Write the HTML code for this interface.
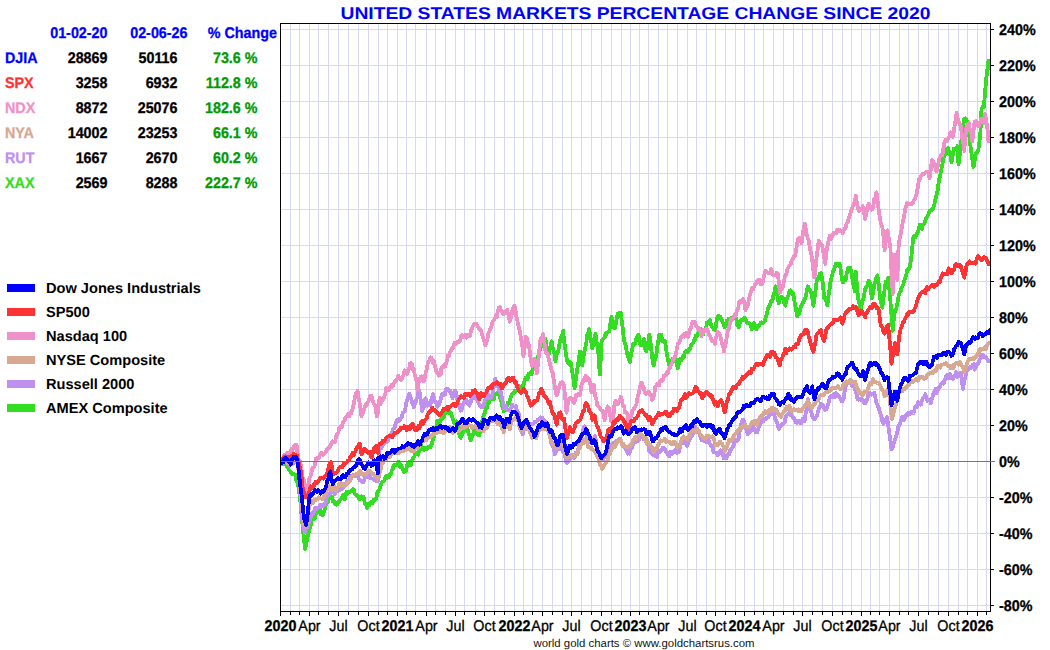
<!DOCTYPE html>
<html><head><meta charset="utf-8"><style>
html,body{margin:0;padding:0;background:#fff;width:1050px;height:650px;overflow:hidden}
svg{position:absolute;left:0;top:0;text-rendering:geometricPrecision;font-family:"Liberation Sans",sans-serif;font-size:14px}
</style></head><body>
<svg width="1050" height="650" viewBox="0 0 1050 650">
<rect width="1050" height="650" fill="#fff"/>
<text x="635.5" y="19" text-anchor="middle" font-weight="bold" font-size="17" fill="#0000ff" textLength="590" lengthAdjust="spacingAndGlyphs">UNITED STATES MARKETS PERCENTAGE CHANGE SINCE 2020</text>
<g font-weight="bold">
<text x="107.5" y="38" text-anchor="end" fill="#0000ff" stroke="#0000ff" stroke-width="0.3" font-weight="bold" font-size="15.4" transform="translate(107.5 0) scale(0.93 1) translate(-107.5 0)">01-02-20</text><text x="187.5" y="38" text-anchor="end" fill="#0000ff" stroke="#0000ff" stroke-width="0.3" font-weight="bold" font-size="15.4" transform="translate(187.5 0) scale(0.93 1) translate(-187.5 0)">02-06-26</text><text x="277" y="38" text-anchor="end" fill="#0000ff" stroke="#0000ff" stroke-width="0.3" font-weight="bold" font-size="15.4" transform="translate(277 0) scale(0.93 1) translate(-277 0)">% Change</text>
<text x="5" y="63" fill="#0000ff" stroke="#0000ff" stroke-width="0.3" font-weight="bold" font-size="15.4" transform="translate(5 0) scale(0.93 1) translate(-5 0)">DJIA</text><text x="107.5" y="63" text-anchor="end" stroke="#000" stroke-width="0.3" font-weight="bold" font-size="15.4" transform="translate(107.5 0) scale(0.93 1) translate(-107.5 0)">28869</text><text x="177.5" y="63" text-anchor="end" stroke="#000" stroke-width="0.3" font-weight="bold" font-size="15.4" transform="translate(177.5 0) scale(0.93 1) translate(-177.5 0)">50116</text><text x="257.5" y="63" text-anchor="end" fill="#009a00" stroke="#009a00" stroke-width="0.3" font-weight="bold" font-size="15.4" transform="translate(257.5 0) scale(0.93 1) translate(-257.5 0)">73.6 %</text>
<text x="5" y="88" fill="#ff3333" stroke="#ff3333" stroke-width="0.3" font-weight="bold" font-size="15.4" transform="translate(5 0) scale(0.93 1) translate(-5 0)">SPX</text><text x="107.5" y="88" text-anchor="end" stroke="#000" stroke-width="0.3" font-weight="bold" font-size="15.4" transform="translate(107.5 0) scale(0.93 1) translate(-107.5 0)">3258</text><text x="177.5" y="88" text-anchor="end" stroke="#000" stroke-width="0.3" font-weight="bold" font-size="15.4" transform="translate(177.5 0) scale(0.93 1) translate(-177.5 0)">6932</text><text x="257.5" y="88" text-anchor="end" fill="#009a00" stroke="#009a00" stroke-width="0.3" font-weight="bold" font-size="15.4" transform="translate(257.5 0) scale(0.93 1) translate(-257.5 0)">112.8 %</text>
<text x="5" y="113" fill="#f090c8" stroke="#f090c8" stroke-width="0.3" font-weight="bold" font-size="15.4" transform="translate(5 0) scale(0.93 1) translate(-5 0)">NDX</text><text x="107.5" y="113" text-anchor="end" stroke="#000" stroke-width="0.3" font-weight="bold" font-size="15.4" transform="translate(107.5 0) scale(0.93 1) translate(-107.5 0)">8872</text><text x="177.5" y="113" text-anchor="end" stroke="#000" stroke-width="0.3" font-weight="bold" font-size="15.4" transform="translate(177.5 0) scale(0.93 1) translate(-177.5 0)">25076</text><text x="257.5" y="113" text-anchor="end" fill="#009a00" stroke="#009a00" stroke-width="0.3" font-weight="bold" font-size="15.4" transform="translate(257.5 0) scale(0.93 1) translate(-257.5 0)">182.6 %</text>
<text x="5" y="138" fill="#d8a890" stroke="#d8a890" stroke-width="0.3" font-weight="bold" font-size="15.4" transform="translate(5 0) scale(0.93 1) translate(-5 0)">NYA</text><text x="107.5" y="138" text-anchor="end" stroke="#000" stroke-width="0.3" font-weight="bold" font-size="15.4" transform="translate(107.5 0) scale(0.93 1) translate(-107.5 0)">14002</text><text x="177.5" y="138" text-anchor="end" stroke="#000" stroke-width="0.3" font-weight="bold" font-size="15.4" transform="translate(177.5 0) scale(0.93 1) translate(-177.5 0)">23253</text><text x="257.5" y="138" text-anchor="end" fill="#009a00" stroke="#009a00" stroke-width="0.3" font-weight="bold" font-size="15.4" transform="translate(257.5 0) scale(0.93 1) translate(-257.5 0)">66.1 %</text>
<text x="5" y="163" fill="#c090f0" stroke="#c090f0" stroke-width="0.3" font-weight="bold" font-size="15.4" transform="translate(5 0) scale(0.93 1) translate(-5 0)">RUT</text><text x="107.5" y="163" text-anchor="end" stroke="#000" stroke-width="0.3" font-weight="bold" font-size="15.4" transform="translate(107.5 0) scale(0.93 1) translate(-107.5 0)">1667</text><text x="177.5" y="163" text-anchor="end" stroke="#000" stroke-width="0.3" font-weight="bold" font-size="15.4" transform="translate(177.5 0) scale(0.93 1) translate(-177.5 0)">2670</text><text x="257.5" y="163" text-anchor="end" fill="#009a00" stroke="#009a00" stroke-width="0.3" font-weight="bold" font-size="15.4" transform="translate(257.5 0) scale(0.93 1) translate(-257.5 0)">60.2 %</text>
<text x="5" y="188" fill="#33dd22" stroke="#33dd22" stroke-width="0.3" font-weight="bold" font-size="15.4" transform="translate(5 0) scale(0.93 1) translate(-5 0)">XAX</text><text x="107.5" y="188" text-anchor="end" stroke="#000" stroke-width="0.3" font-weight="bold" font-size="15.4" transform="translate(107.5 0) scale(0.93 1) translate(-107.5 0)">2569</text><text x="177.5" y="188" text-anchor="end" stroke="#000" stroke-width="0.3" font-weight="bold" font-size="15.4" transform="translate(177.5 0) scale(0.93 1) translate(-177.5 0)">8288</text><text x="257.5" y="188" text-anchor="end" fill="#009a00" stroke="#009a00" stroke-width="0.3" font-weight="bold" font-size="15.4" transform="translate(257.5 0) scale(0.93 1) translate(-257.5 0)">222.7 %</text>
<rect x="7" y="284" width="28" height="8" fill="#0000ff"/><text x="46" y="293" font-size="14.6">Dow Jones Industrials</text>
<rect x="7" y="308" width="28" height="8" fill="#ff3333"/><text x="46" y="317" font-size="14.6">SP500</text>
<rect x="7" y="332" width="28" height="8" fill="#f090c8"/><text x="46" y="341" font-size="14.6">Nasdaq 100</text>
<rect x="7" y="356" width="28" height="8" fill="#d8a890"/><text x="46" y="365" font-size="14.6">NYSE Composite</text>
<rect x="7" y="380" width="28" height="8" fill="#c090f0"/><text x="46" y="389" font-size="14.6">Russell 2000</text>
<rect x="7" y="404" width="28" height="8" fill="#33dd22"/><text x="46" y="413" font-size="14.6">AMEX Composite</text>
</g>
<path d="M290.5 24V611M299.5 24V611M309.5 24V611M318.5 24V611M328.5 24V611M338.5 24V611M348.5 24V611M358.5 24V611M368.5 24V611M378.5 24V611M387.5 24V611M397.5 24V611M406.5 24V611M415.5 24V611M426.5 24V611M435.5 24V611M445.5 24V611M455.5 24V611M464.5 24V611M475.5 24V611M484.5 24V611M494.5 24V611M504.5 24V611M514.5 24V611M523.5 24V611M532.5 24V611M542.5 24V611M552.5 24V611M562.5 24V611M571.5 24V611M581.5 24V611M591.5 24V611M601.5 24V611M611.5 24V611M621.5 24V611M630.5 24V611M639.5 24V611M648.5 24V611M658.5 24V611M667.5 24V611M677.5 24V611M687.5 24V611M696.5 24V611M706.5 24V611M715.5 24V611M725.5 24V611M735.5 24V611M744.5 24V611M754.5 24V611M763.5 24V611M773.5 24V611M783.5 24V611M793.5 24V611M802.5 24V611M812.5 24V611M822.5 24V611M832.5 24V611M842.5 24V611M851.5 24V611M861.5 24V611M870.5 24V611M879.5 24V611M889.5 24V611M899.5 24V611M908.5 24V611M918.5 24V611M928.5 24V611M938.5 24V611M948.5 24V611M958.5 24V611M967.5 24V611M977.5 24V611M986.5 24V611M281 29.5H990M281 65.5H990M281 101.5H990M281 137.5H990M281 173.5H990M281 209.5H990M281 245.5H990M281 281.5H990M281 317.5H990M281 353.5H990M281 389.5H990M281 425.5H990M281 497.5H990M281 533.5H990M281 569.5H990M281 605.5H990" stroke="#d7d9f3" stroke-width="1" fill="none"/>
<defs><clipPath id="pc"><rect x="281" y="24" width="709" height="587"/></clipPath></defs><g clip-path="url(#pc)"><path d="M280.0 461.8 L280.6 461.2 L281.5 463.6 L282.5 464.4 L283.4 464.0 L284.3 462.7 L285.2 463.4 L286.2 464.5 L287.1 467.1 L288.3 468.5 L289.5 470.8 L290.6 471.3 L291.6 473.7 L292.6 473.2 L293.8 474.2 L295.1 474.5 L296.3 480.0 L297.6 482.5 L298.5 487.2 L299.4 493.7 L300.3 501.0 L301.2 511.7 L302.2 521.4 L303.1 532.4 L304.0 537.9 L304.9 549.0 L305.9 546.1 L306.8 540.5 L307.7 536.1 L308.6 533.1 L309.6 528.6 L310.5 526.8 L311.4 520.8 L312.3 519.5 L313.3 519.4 L314.2 516.2 L315.1 518.0 L316.0 512.1 L317.0 513.1 L317.9 509.2 L318.8 509.2 L319.7 508.4 L320.6 514.1 L321.6 513.7 L322.5 515.5 L323.4 513.9 L324.3 510.7 L325.3 507.2 L326.2 502.8 L327.1 502.0 L328.0 502.1 L329.0 497.9 L329.9 495.4 L330.8 495.4 L331.7 496.7 L332.7 501.0 L333.6 500.5 L334.5 503.3 L335.4 503.9 L336.4 504.7 L337.3 504.3 L338.2 502.0 L339.1 501.3 L340.0 499.8 L341.0 499.1 L341.9 497.9 L342.8 495.0 L343.7 497.5 L344.7 499.2 L345.6 495.4 L346.5 491.8 L347.4 493.8 L348.4 492.2 L349.3 492.4 L350.2 491.7 L351.1 491.1 L352.1 491.1 L353.0 489.0 L353.9 489.9 L354.8 493.9 L355.8 494.3 L356.7 495.6 L357.6 495.4 L358.8 498.6 L360.0 499.1 L360.8 497.1 L361.5 496.2 L362.5 497.1 L363.4 496.6 L364.3 500.5 L365.2 504.5 L366.2 505.4 L367.1 507.7 L368.0 504.3 L368.9 505.7 L369.8 504.3 L370.8 502.3 L371.7 503.4 L372.6 503.0 L373.5 499.6 L374.5 500.0 L375.4 499.2 L376.3 498.4 L377.3 492.3 L378.3 491.3 L379.2 489.9 L380.2 486.5 L381.2 483.8 L382.2 481.9 L383.2 481.6 L384.2 480.6 L385.3 478.0 L386.3 476.0 L387.3 477.7 L388.2 476.0 L389.2 477.0 L390.1 474.4 L391.0 474.0 L391.9 470.0 L392.8 468.8 L393.8 465.4 L394.7 464.8 L395.6 465.1 L396.5 465.4 L397.5 463.5 L398.4 461.7 L399.3 463.7 L400.2 466.9 L401.2 465.4 L402.1 467.1 L403.0 469.2 L403.9 472.2 L404.8 471.6 L405.8 471.5 L406.8 466.5 L407.8 463.5 L408.8 462.3 L409.8 461.8 L410.7 465.0 L411.6 461.9 L412.5 459.5 L413.5 457.7 L414.4 456.2 L415.3 452.7 L416.2 454.0 L417.2 453.8 L418.1 454.6 L419.1 450.3 L420.1 449.8 L421.2 445.4 L422.2 447.3 L423.2 449.6 L424.2 450.0 L425.2 447.8 L426.1 449.6 L427.0 449.1 L427.9 446.9 L428.8 446.9 L430.0 447.5 L430.9 445.8 L431.8 444.4 L432.8 439.9 L433.7 437.7 L434.6 432.9 L435.5 429.1 L436.5 425.9 L437.4 420.5 L438.4 422.5 L439.4 423.1 L440.3 420.5 L441.3 419.0 L442.3 415.5 L443.3 418.0 L444.3 416.5 L445.3 411.7 L446.2 409.5 L447.2 410.6 L448.2 411.9 L449.1 413.0 L450.0 411.9 L450.9 413.1 L452.2 417.1 L453.4 420.5 L454.3 422.9 L455.2 422.3 L456.2 421.4 L457.1 422.9 L458.0 427.1 L458.9 433.0 L459.8 436.8 L460.8 437.7 L461.7 434.8 L462.6 433.5 L463.5 430.2 L464.5 430.3 L465.7 429.4 L466.9 427.8 L467.8 430.1 L468.8 434.2 L469.7 436.6 L470.6 440.2 L471.5 438.2 L472.5 435.2 L473.4 434.0 L474.3 427.8 L475.3 428.2 L476.3 433.2 L477.3 434.0 L478.2 435.4 L479.2 435.2 L480.2 430.7 L481.1 428.5 L482.0 421.4 L482.9 418.0 L483.9 414.7 L484.9 412.9 L485.9 408.6 L486.9 407.9 L487.8 403.2 L488.8 403.0 L489.8 399.1 L490.8 399.0 L491.8 398.9 L492.8 398.3 L493.8 399.3 L494.8 394.0 L495.8 393.6 L496.9 393.6 L497.9 392.3 L498.9 393.4 L500.0 398.0 L501.0 399.9 L502.0 404.8 L503.0 408.4 L503.9 411.3 L504.9 410.3 L505.9 407.1 L506.9 406.1 L507.9 402.7 L508.9 402.8 L509.8 400.5 L510.8 397.1 L511.8 394.3 L512.8 393.0 L513.8 393.3 L514.8 390.6 L515.8 390.8 L516.7 390.8 L517.7 388.1 L518.7 386.0 L519.7 388.2 L520.7 387.1 L521.7 386.2 L522.6 387.0 L523.6 384.7 L524.6 380.8 L525.6 377.6 L526.6 378.0 L527.6 378.9 L528.6 373.5 L529.5 373.4 L530.5 373.7 L531.5 373.9 L532.5 369.7 L533.5 368.0 L534.5 363.5 L535.4 363.0 L536.4 360.5 L537.4 357.1 L538.4 355.6 L539.4 351.2 L540.6 347.6 L541.8 343.8 L542.8 343.5 L543.7 344.3 L544.6 340.3 L545.5 338.9 L546.8 348.9 L548.0 356.2 L548.9 354.3 L549.8 349.2 L550.8 344.8 L551.7 341.4 L552.6 346.9 L553.5 350.4 L554.5 354.4 L555.4 361.1 L556.3 354.7 L557.2 353.4 L558.2 351.0 L559.1 346.0 L560.0 340.8 L561.0 337.4 L562.1 335.3 L563.1 330.8 L564.1 341.0 L565.1 348.0 L566.2 356.2 L567.3 361.3 L568.5 363.8 L569.6 361.9 L570.8 362.3 L571.9 370.5 L573.1 376.2 L573.8 382.2 L574.6 388.5 L575.8 380.1 L576.9 371.5 L577.9 365.6 L579.0 357.7 L580.0 351.5 L581.2 357.1 L582.3 365.4 L583.3 357.3 L584.4 351.2 L585.4 346.9 L586.3 342.7 L587.3 334.9 L588.3 332.8 L589.2 329.2 L590.3 335.9 L591.3 342.5 L592.3 348.5 L593.3 343.1 L594.4 338.3 L595.4 333.8 L596.4 341.4 L597.4 345.6 L598.5 354.6 L599.2 366.0 L600.0 374.6 L600.8 357.3 L601.5 340.8 L602.6 340.0 L603.6 338.2 L604.6 337.7 L605.5 333.3 L606.5 334.0 L607.4 332.5 L608.3 331.9 L609.2 331.5 L610.4 323.2 L611.5 316.9 L612.6 321.1 L613.6 326.9 L614.6 328.5 L615.6 324.5 L616.7 318.7 L617.7 313.8 L618.7 313.0 L619.7 313.0 L620.8 313.1 L621.8 321.2 L622.8 328.8 L623.8 339.2 L624.9 343.3 L625.9 345.6 L626.9 353.1 L627.9 357.1 L629.0 358.9 L630.0 362.3 L631.0 354.2 L632.1 350.0 L633.1 343.8 L634.2 345.1 L635.2 344.0 L636.3 338.9 L637.4 336.2 L638.5 334.6 L639.6 342.6 L640.8 345.4 L641.8 344.7 L642.8 341.2 L643.8 339.2 L645.0 348.6 L646.2 351.5 L647.2 346.4 L648.2 343.1 L649.2 334.6 L650.2 339.6 L651.1 348.0 L652.0 354.9 L652.9 363.0 L653.8 365.4 L655.0 359.0 L656.2 356.2 L657.2 347.4 L658.2 342.2 L659.2 334.6 L660.4 334.6 L661.3 334.9 L662.2 341.1 L663.2 340.5 L664.1 340.5 L665.0 340.8 L666.2 350.0 L667.2 355.1 L668.2 361.4 L669.2 365.4 L670.3 362.4 L671.3 362.0 L672.3 359.2 L673.3 360.0 L674.4 358.7 L675.4 356.2 L676.6 364.1 L677.8 368.5 L678.9 363.0 L680.0 359.2 L680.9 360.7 L681.8 358.7 L682.8 356.0 L683.7 357.7 L684.6 353.1 L685.5 351.7 L686.5 350.6 L687.4 352.5 L688.3 351.6 L689.2 348.5 L690.2 348.9 L691.1 344.6 L692.0 343.8 L692.9 343.5 L693.8 340.8 L694.9 339.8 L695.9 335.6 L696.9 336.2 L697.9 333.2 L699.0 331.9 L700.0 330.0 L701.0 328.8 L702.1 333.2 L703.1 334.6 L704.1 331.0 L705.1 330.1 L706.2 326.9 L707.1 322.4 L708.0 322.5 L708.9 321.8 L709.8 320.0 L710.8 323.8 L711.8 327.1 L712.8 327.6 L713.8 329.5 L714.8 330.0 L715.8 327.2 L716.8 319.4 L717.8 316.2 L718.8 316.0 L719.7 317.9 L720.6 317.2 L721.5 319.2 L722.6 322.3 L723.6 323.4 L724.6 326.9 L725.6 326.2 L726.7 320.7 L727.7 322.3 L728.6 318.6 L729.5 319.6 L730.5 318.2 L731.4 318.4 L732.3 319.2 L733.3 318.1 L734.4 315.9 L735.4 316.2 L736.4 319.4 L737.4 325.4 L738.5 326.9 L739.2 326.6 L740.0 320.8 L741.1 320.1 L742.2 320.3 L743.2 319.4 L744.3 317.5 L745.4 319.2 L746.5 322.1 L747.5 323.5 L748.6 322.9 L749.7 323.5 L750.8 325.7 L751.9 329.4 L752.9 326.5 L754.0 322.9 L755.1 326.1 L756.2 329.4 L757.3 327.1 L758.3 326.4 L759.4 325.2 L760.5 322.9 L761.6 322.3 L762.6 323.2 L763.7 322.4 L764.8 320.8 L765.9 316.5 L767.0 313.8 L768.0 307.8 L769.1 306.6 L770.2 303.8 L771.3 300.6 L772.3 301.3 L773.4 295.2 L774.5 291.6 L775.6 286.3 L776.7 289.5 L777.7 298.2 L778.8 303.5 L779.9 298.9 L781.0 296.8 L782.0 297.0 L783.1 298.0 L784.2 303.3 L785.3 305.7 L786.4 300.7 L787.4 297.4 L788.5 294.9 L789.6 290.7 L790.7 290.4 L791.8 291.6 L792.8 292.7 L793.9 297.6 L795.0 304.5 L796.1 309.3 L797.1 316.4 L798.2 314.1 L799.3 313.4 L800.4 307.8 L801.5 304.7 L802.5 303.9 L803.6 301.3 L804.7 299.2 L805.8 295.8 L806.8 291.1 L807.9 286.3 L809.0 289.9 L810.1 290.6 L811.2 292.8 L812.2 297.7 L813.3 305.7 L814.4 298.7 L815.5 290.7 L816.5 281.9 L817.7 279.1 L818.8 277.1 L820.0 273.3 L821.2 273.1 L822.2 279.3 L823.2 287.2 L824.2 297.7 L825.3 299.3 L826.3 301.0 L827.3 305.4 L828.3 296.7 L829.4 290.3 L830.4 282.3 L831.3 278.4 L832.2 274.7 L833.2 270.4 L834.1 269.6 L835.0 266.9 L835.9 263.5 L836.8 265.5 L837.8 263.6 L838.7 265.5 L839.6 263.8 L840.6 268.8 L841.7 276.4 L842.7 282.3 L843.6 282.1 L844.5 279.1 L845.5 280.1 L846.4 275.1 L847.3 271.5 L848.2 268.0 L849.2 270.0 L850.1 267.5 L851.0 271.0 L851.9 274.6 L852.9 282.6 L854.0 286.5 L855.0 291.5 L855.8 271.9 L856.9 285.1 L858.1 298.5 L859.2 302.6 L860.4 310.0 L861.5 305.3 L862.7 300.8 L863.8 297.0 L865.0 289.8 L866.2 286.9 L867.3 285.3 L868.5 280.9 L869.6 282.3 L870.8 289.6 L871.9 298.5 L873.1 292.4 L874.2 284.6 L875.2 281.9 L876.2 277.6 L877.2 275.4 L878.2 280.3 L879.1 287.4 L880.0 298.5 L881.2 303.3 L882.3 307.7 L883.5 298.3 L884.6 289.2 L885.8 281.9 L886.9 282.4 L888.1 277.7 L889.2 288.0 L890.4 300.8 L891.5 315.2 L892.7 330.8 L893.8 319.0 L895.0 310.0 L896.2 309.4 L897.3 303.8 L898.5 296.2 L899.6 292.5 L900.8 290.8 L901.9 286.9 L903.1 285.0 L904.2 280.7 L905.4 277.7 L906.3 274.6 L907.2 269.7 L908.2 268.8 L909.1 268.7 L910.0 266.2 L911.2 258.1 L912.3 246.8 L913.5 236.2 L914.4 237.1 L915.3 237.5 L916.2 235.2 L917.2 233.0 L918.1 231.5 L919.0 227.9 L919.9 224.8 L920.9 226.8 L921.8 228.8 L922.7 224.6 L923.9 224.3 L925.0 221.6 L926.2 217.7 L927.3 216.5 L928.5 213.8 L929.6 210.8 L930.8 210.1 L931.9 210.5 L933.1 208.5 L934.2 205.2 L935.4 199.2 L936.5 194.8 L937.7 190.0 L938.9 180.4 L940.0 176.2 L941.2 170.4 L942.3 164.7 L943.5 157.7 L944.6 154.9 L945.8 153.8 L946.9 148.5 L948.1 148.3 L949.2 152.0 L950.4 155.4 L951.5 162.3 L952.7 155.4 L953.9 148.5 L955.0 148.9 L956.2 148.6 L957.3 146.2 L958.5 164.6 L959.6 156.4 L960.8 143.9 L961.9 136.3 L963.1 125.4 L964.2 119.2 L965.4 118.3 L966.5 119.6 L967.7 124.4 L968.9 132.3 L970.0 142.8 L971.2 150.8 L972.3 159.5 L973.5 166.9 L974.6 161.5 L975.8 153.1 L976.9 153.1 L978.1 150.8 L979.2 144.1 L980.4 132.3 L981.5 109.2 L982.7 106.9 L983.9 106.9 L985.0 92.9 L986.2 79.2 L987.3 70.0 L988.5 60.8 L989.6 67.7" stroke="#33dd22" stroke-width="3.8" fill="none" stroke-linejoin="round" stroke-linecap="round" shape-rendering="crispEdges"/><path d="M280.0 461.8 L280.6 461.2 L281.5 460.3 L282.5 462.1 L283.4 462.9 L284.3 461.8 L285.2 462.2 L286.3 462.5 L287.3 461.5 L288.3 463.4 L289.2 465.2 L290.2 463.1 L291.1 462.8 L292.0 464.0 L293.2 463.2 L294.5 461.5 L295.7 461.1 L296.9 462.2 L298.2 467.1 L299.4 480.0 L299.4 486.2 L300.3 494.1 L301.2 508.3 L302.2 521.3 L303.1 525.2 L304.0 530.1 L304.9 532.4 L305.9 529.2 L306.8 526.5 L307.7 526.8 L308.6 523.9 L309.6 520.3 L310.5 518.2 L311.4 513.9 L312.3 512.9 L313.3 513.8 L314.2 510.7 L315.1 507.9 L316.0 509.4 L317.0 508.4 L317.9 507.8 L318.8 507.8 L319.7 505.2 L320.6 504.7 L321.6 506.0 L322.5 506.5 L323.4 505.5 L324.3 504.0 L325.3 504.2 L326.2 500.7 L327.1 495.4 L328.0 496.2 L329.0 493.8 L329.9 494.0 L330.8 491.7 L331.7 490.7 L332.7 491.6 L333.6 491.4 L334.5 494.4 L335.4 493.6 L336.4 489.8 L337.3 491.3 L338.2 489.7 L339.1 490.3 L340.0 489.7 L341.0 488.0 L341.9 489.1 L342.8 488.1 L343.7 487.0 L344.7 486.1 L345.6 485.4 L346.5 482.5 L347.4 480.6 L348.4 480.5 L349.3 479.9 L350.2 476.0 L351.1 477.2 L352.1 477.0 L353.0 474.9 L353.9 476.3 L354.8 476.6 L355.8 474.2 L356.8 474.7 L357.9 476.2 L358.9 479.1 L360.0 480.6 L361.0 481.1 L362.1 482.2 L363.1 482.3 L364.1 480.8 L365.1 476.8 L366.2 473.9 L367.2 476.9 L368.2 473.7 L369.2 474.6 L370.3 478.0 L371.3 478.1 L372.3 478.7 L373.3 478.5 L374.4 480.0 L375.4 480.8 L376.4 480.6 L377.4 481.2 L378.5 480.8 L379.6 450.0 L380.5 448.3 L381.5 448.1 L382.4 446.2 L383.3 444.6 L384.2 443.8 L385.2 440.6 L386.1 442.5 L387.0 441.9 L387.9 440.6 L388.8 436.2 L389.8 437.0 L390.7 434.5 L391.6 436.1 L392.5 430.1 L393.5 428.5 L394.4 428.4 L395.3 424.4 L396.2 421.8 L397.2 420.1 L398.1 421.3 L399.0 419.3 L399.9 419.9 L400.9 418.5 L401.8 417.1 L402.7 412.7 L403.6 412.6 L404.6 411.5 L405.5 408.0 L406.4 402.6 L407.3 399.8 L408.3 396.5 L409.2 393.6 L410.1 396.1 L411.0 398.0 L412.0 402.1 L412.9 404.8 L413.8 407.2 L414.7 404.7 L415.6 403.2 L416.6 398.9 L417.5 396.9 L418.4 391.8 L419.3 390.5 L420.3 396.6 L421.2 403.5 L422.1 410.9 L423.0 408.6 L424.0 406.9 L424.9 399.8 L425.8 398.4 L426.7 401.8 L427.7 405.7 L428.6 403.5 L429.5 403.8 L430.4 405.2 L431.4 399.4 L432.3 396.6 L433.2 394.2 L434.1 399.4 L435.0 401.5 L436.0 402.0 L436.9 405.3 L437.8 406.6 L438.7 404.9 L439.7 402.9 L440.6 399.8 L441.5 395.5 L442.4 394.0 L443.4 395.1 L444.3 392.5 L445.2 394.2 L446.1 388.8 L447.1 390.6 L448.0 388.7 L448.9 390.5 L449.8 391.7 L450.8 391.3 L451.7 395.8 L452.6 397.9 L453.8 393.7 L455.0 390.5 L456.0 392.3 L457.1 398.3 L458.0 403.3 L458.9 403.8 L459.8 408.9 L460.8 410.6 L461.7 409.8 L462.6 405.0 L463.5 404.4 L464.5 400.8 L465.4 399.8 L466.4 399.8 L467.4 403.4 L468.4 404.7 L469.4 405.7 L470.3 400.8 L471.2 401.2 L472.2 394.5 L473.1 393.4 L474.0 396.8 L474.9 398.4 L475.8 399.0 L476.8 398.3 L477.8 400.1 L478.7 404.0 L479.7 404.6 L480.7 406.8 L481.7 405.7 L482.7 406.8 L483.7 405.2 L484.6 402.0 L485.6 398.7 L486.6 398.3 L487.5 396.0 L488.5 394.1 L489.4 398.6 L490.3 398.3 L491.3 398.0 L492.3 394.6 L493.3 390.3 L494.2 384.8 L495.2 378.6 L496.2 382.5 L497.2 383.6 L498.2 386.9 L499.2 391.3 L500.2 388.5 L501.1 393.9 L502.0 397.5 L502.9 402.7 L503.8 408.2 L504.9 407.4 L505.9 406.3 L506.9 409.8 L507.9 410.5 L508.9 410.0 L509.8 411.1 L511.1 407.7 L512.3 404.9 L513.2 406.1 L514.2 406.7 L515.1 406.6 L516.0 406.2 L517.2 411.1 L518.5 412.3 L519.4 420.8 L520.3 428.3 L521.5 431.3 L522.8 434.5 L523.8 429.8 L524.8 427.6 L525.8 425.8 L526.8 428.2 L527.7 428.0 L528.6 424.9 L529.5 424.6 L530.6 424.0 L531.6 424.2 L532.6 424.6 L533.7 423.7 L534.8 421.5 L535.8 421.9 L536.9 420.9 L537.8 419.6 L538.8 419.7 L539.7 418.3 L540.6 417.2 L541.5 418.2 L542.5 418.0 L543.4 420.9 L544.3 420.9 L545.3 421.5 L546.4 422.5 L547.4 427.1 L548.4 430.2 L549.4 434.3 L550.5 438.2 L551.5 444.4 L552.6 445.9 L553.7 447.2 L554.8 454.2 L555.8 452.6 L556.8 449.1 L557.8 448.0 L559.1 449.4 L560.3 449.2 L561.2 447.7 L562.2 448.6 L563.1 451.9 L564.0 451.7 L565.2 457.0 L566.5 462.8 L567.7 462.8 L568.9 460.3 L570.2 458.0 L571.4 457.8 L572.6 456.4 L573.8 457.8 L574.8 456.9 L575.7 452.5 L576.6 452.6 L577.5 454.2 L578.8 445.3 L580.0 438.5 L580.9 438.8 L581.8 436.1 L582.8 431.9 L583.7 428.0 L584.6 426.2 L585.6 428.9 L586.7 434.5 L587.7 438.5 L588.7 442.2 L589.7 442.0 L590.8 443.0 L591.8 443.1 L592.8 439.7 L593.8 440.0 L594.8 436.2 L595.7 439.4 L596.6 445.0 L597.5 450.0 L598.5 452.3 L599.4 452.3 L600.4 456.6 L601.3 458.6 L602.3 460.0 L603.2 459.9 L604.2 457.2 L605.1 455.4 L606.0 455.5 L606.9 453.8 L607.9 448.0 L608.8 446.4 L609.8 447.2 L610.8 444.6 L611.7 444.1 L612.6 443.3 L613.5 444.7 L614.5 443.3 L615.4 441.5 L616.3 440.7 L617.2 441.6 L618.2 440.9 L619.1 439.0 L620.0 438.5 L620.9 440.6 L621.8 442.6 L622.8 445.3 L623.7 444.9 L624.6 447.7 L625.6 449.1 L626.7 451.3 L627.7 453.8 L628.6 452.3 L629.5 453.8 L630.5 448.6 L631.4 447.7 L632.3 447.7 L633.2 443.5 L634.2 442.2 L635.1 441.3 L636.0 441.9 L636.9 441.5 L637.8 440.7 L638.8 439.8 L639.7 438.7 L640.6 435.8 L641.5 435.4 L642.6 436.9 L643.6 438.9 L644.6 438.5 L645.6 438.1 L646.5 439.9 L647.5 441.4 L648.5 446.2 L649.2 451.5 L650.0 452.3 L651.0 452.7 L651.9 453.5 L652.9 454.7 L653.8 453.8 L654.9 450.9 L655.9 456.4 L656.9 456.9 L657.9 450.2 L658.8 451.9 L659.8 452.0 L660.8 450.8 L661.7 449.2 L662.7 447.9 L663.7 448.1 L664.6 449.2 L665.6 450.2 L666.5 452.5 L667.5 454.1 L668.5 455.4 L669.4 456.0 L670.3 451.8 L671.2 453.2 L672.2 454.1 L673.1 452.3 L674.0 452.0 L674.9 449.9 L675.8 452.2 L676.8 453.1 L677.7 450.8 L678.7 452.4 L679.6 448.5 L680.6 444.3 L681.5 441.5 L682.5 440.6 L683.5 443.5 L684.4 440.8 L685.4 443.1 L686.3 442.3 L687.2 445.8 L688.2 443.1 L689.1 440.8 L690.0 438.5 L690.9 436.4 L691.8 436.2 L692.8 433.8 L693.7 432.0 L694.6 429.2 L695.6 426.7 L696.7 432.0 L697.7 430.8 L698.7 432.0 L699.6 434.6 L700.6 437.2 L701.5 440.0 L702.6 439.4 L703.6 440.5 L704.6 441.5 L705.6 440.7 L706.5 442.1 L707.5 441.2 L708.5 440.0 L709.5 442.9 L710.5 444.6 L711.5 446.2 L712.6 447.6 L713.6 452.3 L714.6 452.3 L715.6 452.5 L716.7 452.4 L717.7 455.4 L718.8 452.1 L720.0 450.9 L720.9 450.4 L721.8 453.7 L722.8 453.2 L723.7 458.2 L724.6 458.2 L725.5 457.7 L726.5 458.0 L727.4 454.4 L728.3 454.6 L729.2 454.5 L730.2 449.8 L731.1 449.6 L732.0 448.1 L732.9 446.7 L733.9 445.3 L734.8 440.7 L735.7 439.8 L736.6 441.0 L737.6 440.2 L738.5 439.8 L739.4 433.4 L740.3 427.2 L741.2 423.7 L742.2 421.1 L743.1 419.4 L744.0 421.5 L744.9 423.9 L745.9 428.6 L746.8 429.0 L747.7 434.2 L748.6 433.1 L749.6 430.4 L750.5 431.8 L751.4 428.7 L752.3 426.6 L753.3 425.9 L754.2 428.7 L755.1 430.8 L756.0 432.4 L757.0 432.5 L757.9 430.1 L758.8 426.8 L759.7 425.0 L760.6 423.1 L761.6 421.9 L762.5 419.4 L763.4 421.0 L764.3 419.6 L765.3 419.5 L766.2 417.6 L767.1 417.6 L768.0 417.6 L769.0 415.2 L769.9 412.5 L770.8 413.0 L771.7 413.9 L772.7 411.7 L773.6 412.7 L774.5 415.9 L775.4 419.6 L776.4 421.3 L777.3 422.9 L778.2 426.7 L779.1 428.7 L780.0 426.5 L781.0 425.6 L781.9 424.0 L782.8 424.4 L783.7 423.1 L784.7 422.4 L785.6 417.7 L786.5 415.6 L787.4 414.9 L788.4 413.9 L789.3 412.3 L790.2 415.0 L791.1 414.2 L792.1 416.0 L793.0 417.6 L794.0 418.2 L795.0 420.8 L796.1 422.7 L797.2 422.9 L798.2 420.7 L799.3 421.2 L800.4 422.9 L801.5 423.0 L802.5 419.0 L803.6 420.1 L804.7 420.8 L805.8 412.3 L806.9 407.7 L807.9 399.2 L809.0 404.9 L810.1 409.8 L811.2 411.9 L812.3 416.4 L813.3 418.0 L814.4 419.2 L815.5 418.1 L816.6 416.4 L817.6 413.2 L818.7 409.2 L819.8 406.7 L820.9 403.5 L822.0 405.8 L823.0 404.7 L824.1 407.6 L825.2 410.0 L826.3 409.1 L827.3 406.4 L828.4 403.9 L829.5 399.2 L830.6 396.3 L831.7 395.6 L832.7 397.0 L833.8 394.2 L834.9 397.0 L836.0 393.0 L837.0 394.7 L838.1 394.8 L839.2 397.0 L840.3 398.7 L841.4 401.0 L842.4 401.3 L843.5 399.2 L844.6 391.4 L845.7 386.3 L846.8 384.5 L847.8 382.3 L848.9 381.4 L850.0 381.9 L851.1 383.4 L852.1 385.7 L853.2 384.1 L854.3 387.8 L855.4 390.2 L856.5 394.5 L857.5 399.2 L858.6 399.7 L859.7 398.7 L860.8 400.0 L861.8 399.2 L862.9 399.6 L864.0 402.8 L865.1 403.5 L866.2 401.0 L867.2 399.6 L868.3 394.4 L869.4 392.7 L870.3 393.1 L871.3 394.6 L872.2 393.9 L873.1 393.8 L874.1 392.7 L875.0 394.9 L875.8 400.5 L876.5 403.1 L877.7 405.5 L878.8 408.3 L880.0 412.3 L881.2 415.7 L882.3 420.9 L883.5 423.9 L884.6 422.1 L885.8 419.6 L886.9 416.9 L887.8 422.4 L888.8 429.9 L889.7 435.6 L890.6 441.8 L891.5 449.2 L892.7 447.2 L893.8 443.3 L895.0 440.0 L896.2 436.0 L897.3 432.0 L898.5 426.2 L899.4 425.0 L900.3 422.3 L901.2 420.2 L902.2 417.0 L903.1 416.9 L904.0 419.7 L905.0 418.3 L906.0 415.1 L906.9 415.1 L907.9 413.1 L908.9 414.6 L909.8 413.8 L910.7 412.7 L911.6 411.9 L912.5 412.6 L913.5 413.5 L914.4 410.1 L915.3 406.4 L916.2 405.7 L917.2 407.1 L918.1 401.9 L919.0 403.1 L919.9 403.7 L920.9 404.6 L921.8 400.8 L922.7 398.5 L923.6 397.5 L924.5 396.1 L925.5 394.2 L926.4 399.0 L927.3 400.8 L928.5 399.9 L929.6 399.9 L930.8 403.1 L931.7 399.2 L932.6 397.0 L933.5 392.5 L934.5 391.7 L935.4 389.2 L936.4 393.2 L937.3 391.4 L938.3 388.1 L939.2 387.8 L940.2 386.0 L941.2 383.5 L942.3 383.2 L943.5 383.8 L944.6 380.0 L945.5 378.8 L946.5 375.2 L947.4 375.4 L948.3 378.2 L949.2 375.4 L950.4 374.2 L951.5 378.4 L952.7 378.9 L953.9 377.0 L955.0 375.4 L956.2 371.9 L957.1 377.1 L958.0 374.5 L958.9 375.9 L959.9 373.3 L960.8 373.1 L961.9 382.3 L963.1 389.2 L964.2 380.9 L965.4 377.4 L966.5 370.8 L967.7 370.1 L968.9 367.7 L970.0 367.3 L970.9 367.9 L971.9 366.2 L972.8 364.5 L973.7 364.1 L974.6 369.6 L975.8 367.5 L976.9 364.0 L978.1 363.8 L979.2 360.9 L980.4 358.1 L981.5 354.6 L982.7 354.6 L983.9 357.4 L985.0 356.9 L986.2 357.1 L987.3 359.5 L988.5 361.5" stroke="#c090f0" stroke-width="3.8" fill="none" stroke-linejoin="round" stroke-linecap="round" shape-rendering="crispEdges"/><path d="M280.0 461.8 L280.6 461.2 L281.5 461.8 L282.5 459.4 L283.4 461.9 L284.3 460.4 L285.2 460.3 L286.3 462.5 L287.3 463.5 L288.3 461.5 L289.2 462.2 L290.2 461.0 L291.1 461.8 L292.0 462.8 L293.2 461.1 L294.5 460.3 L295.7 460.8 L296.9 461.5 L298.2 465.8 L299.4 480.0 L300.3 490.7 L301.2 501.0 L302.2 508.7 L303.1 516.8 L304.0 525.0 L305.1 526.3 L306.2 526.8 L307.4 517.5 L308.6 510.2 L309.6 505.6 L310.5 503.7 L311.4 501.0 L312.3 502.4 L313.3 502.8 L314.2 499.8 L315.1 500.3 L316.0 499.1 L317.0 499.6 L317.9 498.4 L318.8 497.3 L319.7 498.0 L320.6 498.2 L321.6 498.7 L322.5 499.5 L323.4 497.0 L324.3 496.5 L325.3 493.6 L326.2 492.7 L327.1 488.8 L328.0 488.4 L329.0 486.2 L329.9 486.7 L330.8 489.3 L331.7 490.2 L332.7 489.9 L333.6 488.3 L334.5 486.7 L335.4 488.7 L336.4 490.9 L337.3 488.0 L338.2 486.8 L339.1 484.2 L340.0 485.2 L341.0 483.1 L341.9 485.0 L342.8 484.3 L343.7 485.8 L344.7 486.0 L345.6 484.7 L346.5 483.3 L347.4 483.0 L348.4 481.6 L349.3 481.8 L350.2 481.1 L351.1 478.0 L352.1 476.6 L353.0 476.3 L353.9 475.1 L354.9 474.6 L355.9 474.2 L357.0 473.8 L358.0 473.3 L359.0 472.5 L360.0 471.4 L361.0 472.4 L362.1 474.6 L363.1 474.6 L364.1 474.3 L365.1 474.6 L366.2 474.6 L367.1 472.9 L368.0 471.6 L368.9 470.9 L369.8 470.5 L370.8 471.5 L371.7 472.7 L372.6 474.1 L373.5 474.1 L374.5 476.3 L375.4 476.2 L376.4 477.0 L377.4 478.8 L378.5 477.7 L379.4 471.6 L380.4 471.7 L381.3 464.8 L382.3 462.8 L383.3 462.3 L384.2 459.2 L385.3 459.1 L386.3 459.8 L387.3 457.4 L388.3 456.6 L389.4 457.1 L390.4 456.2 L391.4 454.4 L392.4 453.8 L393.5 453.5 L394.5 453.4 L395.5 453.6 L396.5 453.1 L397.6 452.9 L398.6 453.0 L399.6 449.6 L400.6 451.7 L401.7 450.5 L402.7 451.5 L403.7 450.5 L404.7 450.7 L405.8 450.1 L406.8 448.0 L407.8 448.9 L408.8 446.9 L409.9 448.1 L410.9 450.6 L411.9 451.1 L412.9 450.0 L414.0 451.1 L415.0 446.9 L416.0 446.8 L417.1 447.9 L418.1 448.2 L419.1 446.1 L420.1 445.1 L421.2 442.3 L422.2 440.7 L423.2 440.1 L424.2 441.0 L425.3 439.5 L426.3 440.5 L427.3 437.7 L428.3 437.8 L429.4 437.2 L430.4 437.1 L431.4 436.1 L432.4 434.9 L433.5 433.1 L434.4 434.5 L435.3 433.0 L436.2 431.6 L437.2 433.1 L438.1 431.5 L439.0 431.7 L439.9 430.6 L440.8 432.0 L441.8 432.4 L442.7 431.5 L443.7 433.1 L444.7 431.8 L445.8 430.4 L446.8 430.7 L447.8 427.7 L448.8 430.0 L449.9 427.3 L450.9 428.4 L451.9 431.6 L452.9 433.1 L454.0 430.9 L455.0 428.5 L456.0 430.5 L457.1 430.0 L458.1 431.1 L459.1 430.8 L460.1 429.7 L461.2 428.5 L462.2 427.3 L463.2 425.4 L464.2 427.7 L465.3 427.2 L466.3 426.3 L467.3 425.4 L468.3 424.2 L469.2 425.5 L470.2 425.5 L471.2 425.7 L472.1 428.1 L473.1 427.5 L474.0 426.9 L475.0 426.9 L476.2 425.4 L477.2 428.0 L478.2 429.8 L479.2 430.1 L480.3 430.2 L481.3 430.1 L482.3 430.0 L483.3 431.1 L484.4 428.5 L485.4 428.3 L486.4 428.2 L487.4 428.0 L488.5 423.8 L489.5 422.6 L490.5 420.5 L491.5 420.8 L492.6 421.2 L493.6 420.6 L494.6 419.2 L495.7 419.0 L496.8 422.2 L497.8 424.4 L498.9 423.5 L500.0 422.2 L500.9 424.6 L501.8 428.5 L502.8 428.5 L503.7 432.0 L504.7 428.7 L505.7 426.4 L506.8 423.4 L507.8 425.2 L508.8 426.4 L509.8 429.5 L510.8 424.1 L511.7 421.9 L512.6 419.7 L513.5 419.7 L514.5 419.2 L515.4 417.8 L516.3 417.8 L517.2 418.5 L518.2 421.0 L519.1 426.0 L520.0 428.8 L520.9 430.8 L521.9 430.1 L523.0 429.3 L524.0 427.1 L525.0 428.3 L526.0 427.1 L527.0 427.9 L527.9 429.5 L528.9 429.5 L530.0 432.5 L531.1 434.4 L532.2 437.9 L533.2 436.9 L534.3 436.5 L535.3 435.8 L536.3 438.2 L537.3 433.7 L538.4 432.9 L539.4 428.3 L540.4 429.7 L541.4 428.4 L542.5 428.3 L543.5 429.1 L544.6 429.3 L545.7 429.6 L546.8 428.3 L547.8 430.2 L548.8 431.7 L549.8 436.9 L550.9 439.7 L552.0 442.6 L553.1 443.6 L554.2 446.8 L555.1 446.7 L556.0 447.8 L556.9 445.6 L557.8 448.0 L558.8 445.8 L559.8 445.0 L560.8 441.7 L561.8 440.3 L562.8 441.8 L563.7 445.3 L564.6 449.4 L565.5 451.8 L566.5 457.8 L567.4 455.8 L568.3 456.4 L569.2 457.0 L570.2 455.4 L571.1 456.0 L572.0 454.4 L572.9 454.8 L573.8 456.6 L574.8 455.9 L575.7 454.7 L576.6 454.1 L577.5 452.9 L578.8 448.6 L580.0 447.7 L581.0 444.2 L582.1 443.3 L583.1 441.5 L584.1 443.1 L585.1 439.2 L586.2 438.5 L587.2 443.3 L588.2 447.0 L589.2 447.7 L590.2 448.3 L591.1 447.5 L592.0 449.7 L592.9 449.7 L593.8 450.8 L594.9 450.8 L595.9 453.6 L596.9 455.4 L597.9 456.7 L599.0 461.4 L600.0 464.6 L601.0 465.7 L602.1 469.0 L603.1 467.7 L604.0 465.6 L604.9 463.9 L605.8 463.7 L606.8 461.4 L607.7 460.0 L608.7 454.8 L609.7 454.4 L610.8 450.8 L611.7 448.5 L612.6 448.3 L613.5 445.5 L614.5 447.2 L615.4 446.2 L616.5 442.3 L617.5 442.3 L618.6 441.3 L619.7 441.4 L620.8 440.0 L621.7 444.7 L622.7 446.5 L623.7 444.2 L624.6 446.2 L625.6 446.5 L626.7 447.9 L627.7 447.7 L628.6 447.0 L629.5 445.3 L630.5 446.0 L631.4 444.0 L632.3 443.1 L633.2 440.2 L634.2 439.8 L635.1 437.3 L636.0 438.7 L636.9 436.9 L637.9 436.5 L638.8 434.9 L639.8 434.2 L640.8 433.8 L641.7 434.7 L642.7 435.5 L643.7 437.0 L644.6 438.5 L645.6 437.3 L646.5 443.0 L647.5 441.6 L648.5 443.1 L649.2 444.2 L650.0 444.6 L651.0 446.1 L651.9 447.3 L652.9 449.7 L653.8 452.3 L654.8 450.2 L655.8 448.5 L656.7 448.2 L657.7 446.2 L658.7 444.3 L659.7 442.1 L660.8 440.4 L661.8 441.1 L662.8 440.5 L663.8 440.0 L664.8 438.7 L665.7 441.8 L666.6 441.1 L667.5 441.6 L668.5 441.5 L669.4 442.4 L670.3 442.1 L671.2 444.5 L672.2 442.9 L673.1 444.6 L674.0 441.5 L674.9 442.7 L675.8 443.3 L676.8 447.6 L677.7 447.7 L678.7 446.4 L679.6 446.4 L680.6 442.8 L681.5 440.0 L682.5 437.5 L683.5 436.2 L684.4 437.5 L685.4 438.5 L686.3 438.1 L687.2 439.4 L688.2 437.9 L689.1 436.1 L690.0 435.4 L690.9 430.9 L691.8 429.1 L692.8 429.5 L693.7 430.5 L694.6 430.8 L695.6 432.2 L696.7 430.1 L697.7 429.2 L698.7 431.1 L699.7 433.7 L700.8 435.4 L701.8 435.9 L702.8 436.8 L703.8 438.5 L704.9 438.7 L705.9 437.6 L706.9 435.4 L707.8 435.4 L708.8 435.5 L709.7 436.9 L710.6 437.1 L711.5 436.9 L712.5 436.3 L713.4 438.2 L714.3 440.4 L715.2 445.1 L716.2 444.6 L717.1 444.0 L718.1 444.7 L719.0 443.6 L720.0 441.6 L720.9 442.8 L721.8 443.3 L722.8 445.8 L723.7 446.8 L724.6 450.9 L725.5 450.0 L726.5 448.2 L727.4 444.9 L728.3 442.7 L729.2 439.8 L730.2 441.4 L731.1 440.5 L732.0 439.4 L732.9 437.9 L733.9 435.7 L734.8 434.2 L735.7 433.0 L736.6 432.2 L737.6 430.2 L738.5 429.6 L739.4 429.0 L740.3 428.7 L741.2 427.5 L742.2 427.7 L743.1 426.0 L744.0 426.0 L744.9 425.0 L745.9 426.9 L746.8 426.7 L747.7 426.6 L748.6 427.1 L749.6 426.8 L750.5 424.8 L751.4 423.4 L752.3 421.6 L753.3 423.1 L754.2 421.3 L755.1 421.7 L756.0 420.8 L757.0 425.0 L757.9 421.6 L758.8 419.6 L759.7 417.6 L760.6 417.0 L761.6 415.6 L762.5 416.1 L763.4 412.9 L764.3 413.9 L765.3 411.2 L766.2 411.9 L767.1 412.8 L768.0 411.4 L769.0 410.2 L769.9 410.0 L770.8 411.0 L771.7 407.9 L772.7 407.5 L773.6 408.4 L774.5 410.1 L775.4 409.2 L776.4 410.0 L777.3 412.1 L778.2 414.2 L779.1 415.1 L780.0 415.8 L781.0 416.9 L781.9 414.2 L782.8 413.3 L783.7 412.1 L784.7 410.7 L785.6 410.3 L786.5 407.0 L787.4 408.6 L788.4 406.5 L789.3 405.7 L790.2 407.5 L791.1 411.4 L792.1 410.5 L793.0 410.2 L794.0 408.9 L795.0 410.0 L796.1 409.8 L797.2 410.6 L798.2 409.4 L799.3 410.9 L800.4 410.0 L801.5 411.2 L802.5 408.5 L803.6 407.5 L804.7 405.7 L805.8 405.4 L806.9 402.0 L807.9 401.3 L809.0 403.1 L810.1 407.4 L811.2 408.5 L812.3 407.8 L813.3 404.8 L814.4 404.2 L815.5 403.1 L816.6 401.3 L817.6 399.5 L818.7 399.8 L819.8 396.3 L820.9 394.9 L822.0 394.9 L823.0 395.1 L824.1 395.2 L825.2 392.7 L826.3 392.1 L827.3 392.1 L828.4 392.0 L829.5 390.8 L830.6 390.6 L831.7 388.3 L832.7 387.7 L833.8 388.2 L834.9 388.4 L836.0 388.1 L837.0 387.2 L838.1 386.2 L839.2 388.4 L840.3 389.3 L841.4 388.7 L842.4 387.1 L843.5 384.1 L844.6 384.4 L845.7 382.9 L846.8 381.4 L847.8 381.9 L848.9 382.8 L850.0 380.2 L851.1 379.8 L852.1 382.3 L853.2 382.3 L854.3 382.0 L855.4 381.9 L856.5 387.5 L857.5 387.7 L858.6 392.7 L859.7 391.8 L860.8 393.4 L861.8 394.9 L862.9 394.8 L864.0 391.8 L865.1 392.3 L866.2 392.7 L867.2 390.5 L868.3 387.9 L869.4 384.1 L870.3 383.1 L871.3 384.3 L872.2 382.1 L873.1 378.9 L874.1 381.2 L875.0 381.9 L875.8 381.6 L876.5 382.3 L877.5 383.5 L878.4 382.8 L879.3 383.2 L880.2 385.3 L881.2 388.1 L882.3 390.2 L883.5 391.9 L884.6 396.2 L885.8 395.6 L886.9 391.2 L888.1 389.2 L889.1 393.5 L890.0 402.4 L891.0 411.1 L892.0 419.2 L893.0 414.6 L894.0 411.4 L895.0 407.7 L896.2 403.9 L897.3 399.6 L898.5 393.9 L899.4 392.7 L900.3 391.0 L901.2 389.2 L902.2 391.4 L903.1 389.2 L904.0 389.6 L904.9 389.2 L905.9 386.9 L906.8 387.1 L907.7 385.8 L908.6 385.4 L909.5 382.8 L910.5 382.4 L911.4 381.3 L912.3 382.3 L913.2 381.4 L914.2 380.5 L915.1 380.6 L916.0 379.4 L916.9 378.9 L917.9 380.7 L918.8 377.1 L919.7 377.8 L920.6 377.0 L921.5 376.5 L922.5 376.7 L923.4 377.3 L924.3 378.8 L925.2 378.5 L926.2 377.7 L927.1 374.5 L928.0 375.3 L928.9 373.5 L929.9 373.0 L930.8 373.1 L931.7 372.2 L932.7 372.9 L933.7 371.3 L934.6 371.5 L935.6 371.3 L936.5 368.5 L937.5 366.2 L938.5 367.7 L939.4 366.0 L940.4 367.6 L941.4 365.1 L942.3 365.0 L943.2 364.5 L944.2 363.8 L945.1 364.4 L946.0 363.1 L946.9 363.8 L947.9 366.2 L948.8 365.4 L949.7 366.6 L950.6 368.1 L951.5 367.3 L952.5 365.3 L953.4 368.5 L954.3 365.0 L955.2 363.4 L956.2 362.7 L957.1 362.5 L958.0 363.6 L958.9 364.6 L959.9 361.9 L960.8 363.8 L961.9 365.6 L963.1 367.6 L964.2 371.9 L965.4 367.8 L966.5 365.5 L967.7 361.5 L968.6 359.9 L969.5 358.9 L970.5 358.7 L971.4 359.5 L972.3 359.2 L973.2 357.8 L974.2 358.9 L975.1 357.9 L976.0 355.8 L976.9 355.8 L977.9 354.5 L978.8 350.9 L979.7 349.4 L980.6 350.6 L981.5 348.8 L982.5 349.5 L983.4 349.1 L984.3 347.5 L985.2 347.1 L986.2 348.8 L987.3 344.7 L988.5 343.4 L989.6 343.1" stroke="#d8a890" stroke-width="3.8" fill="none" stroke-linejoin="round" stroke-linecap="round" shape-rendering="crispEdges"/><path d="M280.0 458.5 L280.6 460.9 L281.7 461.1 L282.9 459.2 L284.0 455.4 L285.2 454.3 L286.5 454.2 L287.7 452.8 L288.9 456.6 L290.2 454.0 L291.4 449.2 L292.4 450.2 L293.4 447.6 L294.5 445.5 L295.5 445.0 L296.6 444.9 L297.5 452.3 L298.8 460.3 L299.7 460.7 L300.6 464.6 L301.5 469.4 L302.5 476.9 L303.7 480.0 L304.0 491.7 L305.1 493.4 L306.2 495.4 L307.4 488.4 L308.6 482.5 L309.6 477.7 L310.5 476.2 L311.4 473.3 L312.3 468.2 L313.3 467.6 L314.2 466.9 L315.1 464.0 L316.0 458.5 L317.0 458.0 L317.9 458.6 L318.8 458.5 L319.7 455.5 L320.6 454.0 L321.6 452.8 L322.5 453.1 L323.4 454.8 L324.3 453.3 L325.3 452.9 L326.2 451.1 L327.1 449.0 L328.0 447.8 L329.0 448.2 L329.9 446.5 L330.8 445.7 L331.7 442.7 L332.7 441.3 L333.6 441.8 L334.5 442.5 L335.4 440.0 L336.3 435.7 L337.3 434.0 L338.2 433.1 L339.1 428.6 L340.0 426.9 L340.9 426.5 L341.8 426.9 L342.8 422.7 L343.7 421.3 L344.6 420.8 L345.5 417.4 L346.5 416.7 L347.4 415.8 L348.3 414.0 L349.2 416.2 L350.2 412.4 L351.1 413.3 L352.0 411.1 L352.9 407.1 L353.8 403.8 L354.8 397.9 L355.7 393.8 L356.6 394.5 L357.5 390.9 L358.5 397.4 L359.5 402.8 L360.5 407.9 L361.5 416.2 L362.5 414.3 L363.4 411.9 L364.3 409.0 L365.2 405.7 L366.2 403.8 L367.1 405.2 L368.0 401.8 L368.9 400.5 L369.8 396.2 L370.8 397.2 L371.7 396.2 L372.8 400.9 L373.9 403.9 L375.0 405.3 L375.9 409.4 L376.8 416.4 L377.8 412.8 L378.7 404.3 L379.6 397.9 L380.5 404.5 L381.5 399.3 L382.4 399.9 L383.3 399.8 L384.2 396.4 L385.2 394.9 L386.1 388.0 L387.0 390.5 L387.9 389.9 L388.9 390.0 L389.8 387.6 L390.7 386.6 L391.6 385.0 L392.6 386.6 L393.5 383.3 L394.4 382.3 L395.3 381.3 L396.2 380.2 L397.2 379.0 L398.1 375.6 L399.0 377.6 L399.9 378.9 L400.9 380.1 L401.8 379.4 L402.7 376.5 L403.6 375.0 L404.6 370.2 L405.5 370.9 L406.4 373.7 L407.3 373.9 L408.3 369.8 L409.2 368.4 L410.1 363.4 L411.0 362.8 L412.0 364.5 L412.9 370.1 L413.8 368.4 L414.7 375.2 L415.6 377.6 L416.6 382.1 L417.5 390.5 L418.4 383.0 L419.3 380.6 L420.3 377.6 L421.2 376.4 L422.1 378.4 L423.0 380.8 L424.0 381.3 L424.9 377.2 L425.8 372.2 L426.7 369.8 L427.7 362.8 L428.6 361.4 L429.5 360.8 L430.4 357.3 L431.4 358.0 L432.3 360.8 L433.2 362.9 L434.1 361.0 L435.0 366.0 L436.0 370.2 L436.9 373.0 L437.8 373.2 L438.7 375.8 L439.7 374.3 L440.6 374.7 L441.5 367.2 L442.4 366.5 L443.4 367.3 L444.3 365.0 L445.2 366.3 L446.1 363.0 L447.1 361.0 L448.0 355.6 L448.9 356.4 L449.8 352.1 L450.8 351.7 L451.8 348.3 L452.9 347.9 L453.9 344.6 L455.0 342.5 L455.8 343.9 L456.5 343.8 L457.5 341.7 L458.4 341.2 L459.3 341.8 L460.2 340.8 L461.2 336.2 L462.1 335.3 L463.0 336.4 L463.9 337.0 L464.8 335.0 L465.8 334.6 L466.8 337.7 L467.8 334.6 L468.8 336.2 L469.9 336.3 L470.9 330.8 L471.9 328.5 L472.9 326.2 L474.0 324.0 L475.0 323.8 L476.2 323.8 L477.1 325.1 L478.0 326.9 L478.9 328.3 L479.8 329.6 L480.8 330.0 L481.7 333.3 L482.6 336.7 L483.5 338.8 L484.5 342.1 L485.4 345.4 L486.4 342.1 L487.4 339.4 L488.5 333.1 L489.4 331.1 L490.3 329.1 L491.2 327.8 L492.2 322.5 L493.1 320.8 L494.0 319.7 L494.9 318.4 L495.8 315.7 L496.8 317.3 L497.7 311.5 L498.8 307.7 L500.0 306.9 L500.9 311.0 L501.8 310.7 L502.8 313.4 L503.7 314.3 L504.9 312.3 L506.2 310.6 L507.1 309.7 L508.0 313.3 L508.9 317.2 L509.8 321.7 L510.8 318.5 L511.7 314.2 L512.6 309.5 L513.5 306.9 L514.5 305.5 L515.4 310.1 L516.3 316.0 L517.2 319.2 L518.2 325.5 L519.1 328.2 L520.0 331.4 L520.9 338.9 L522.2 344.8 L523.4 356.2 L524.6 348.1 L525.8 336.5 L526.8 338.3 L527.7 341.1 L528.6 344.7 L529.5 348.8 L530.8 359.6 L532.0 366.0 L533.2 362.2 L534.5 358.6 L535.7 366.1 L536.9 373.4 L537.8 365.7 L538.8 355.9 L539.7 346.2 L540.6 338.9 L541.8 337.8 L543.1 334.0 L544.3 342.3 L545.5 351.2 L546.5 353.7 L547.4 353.5 L548.3 357.0 L549.2 361.1 L550.2 365.0 L551.1 367.9 L552.0 372.1 L552.9 373.4 L553.8 380.5 L554.8 386.3 L555.7 392.0 L556.6 395.5 L557.5 393.7 L558.5 388.5 L559.4 386.4 L560.3 383.2 L561.2 383.8 L562.2 382.2 L563.1 383.4 L564.0 385.7 L565.2 397.8 L566.5 412.8 L567.4 405.4 L568.3 402.5 L569.2 398.7 L570.2 398.0 L571.1 398.1 L572.0 398.4 L572.9 402.1 L573.8 402.9 L574.9 400.9 L575.9 395.2 L576.9 396.4 L577.9 394.1 L579.0 395.4 L580.0 395.4 L580.8 390.0 L581.5 384.6 L582.6 382.6 L583.6 379.5 L584.6 380.0 L585.5 375.6 L586.5 377.2 L587.4 379.8 L588.3 378.2 L589.2 380.0 L590.4 384.9 L591.5 392.3 L592.7 388.5 L593.8 384.6 L594.6 392.2 L595.4 396.9 L596.4 399.6 L597.4 405.4 L598.5 406.2 L599.5 407.4 L600.5 409.5 L601.5 410.8 L602.6 411.0 L603.6 414.7 L604.6 420.0 L605.6 413.0 L606.7 409.5 L607.7 406.2 L608.8 408.3 L610.0 413.8 L611.2 421.6 L612.3 421.5 L613.5 414.7 L614.6 403.1 L615.6 401.0 L616.7 404.5 L617.7 404.6 L618.7 401.5 L619.7 400.0 L620.8 396.9 L621.9 400.3 L623.1 406.2 L624.1 406.3 L625.1 412.7 L626.2 412.3 L627.2 412.9 L628.2 420.1 L629.2 423.1 L630.3 415.3 L631.3 416.2 L632.3 410.8 L633.3 409.5 L634.4 407.7 L635.4 406.2 L636.4 404.7 L637.4 397.7 L638.5 393.8 L639.6 389.2 L640.8 383.1 L641.9 383.0 L643.1 386.2 L644.1 389.2 L645.1 393.2 L646.2 393.8 L647.2 392.9 L648.2 391.5 L649.2 392.3 L650.3 395.3 L651.3 396.3 L652.3 400.0 L653.3 398.9 L654.4 393.1 L655.4 386.2 L656.3 386.0 L657.2 384.1 L658.2 384.2 L659.1 385.6 L660.0 381.5 L661.0 380.1 L662.0 380.7 L663.0 379.6 L664.0 375.5 L665.0 376.2 L665.9 374.8 L666.8 372.3 L667.7 373.1 L668.6 369.7 L669.5 368.8 L670.5 365.5 L671.4 364.7 L672.3 362.3 L673.2 360.3 L674.2 358.3 L675.1 355.9 L676.0 353.5 L676.9 348.5 L677.8 343.7 L678.8 343.5 L679.7 341.7 L680.6 338.4 L681.5 336.2 L682.5 336.5 L683.4 334.3 L684.3 336.6 L685.2 334.0 L686.2 333.1 L687.1 333.7 L688.0 336.9 L688.9 333.2 L689.8 329.7 L690.8 328.5 L691.8 324.2 L692.8 321.8 L693.8 322.3 L694.9 321.9 L695.9 325.4 L696.9 326.9 L697.8 328.8 L698.8 328.0 L699.7 330.0 L700.6 332.2 L701.5 336.2 L702.5 332.7 L703.4 329.5 L704.3 331.6 L705.2 331.0 L706.2 328.5 L707.1 329.8 L708.0 330.9 L708.9 334.8 L709.8 335.8 L710.8 337.7 L711.8 340.6 L712.8 341.1 L713.8 341.7 L714.8 343.8 L715.8 337.6 L716.8 335.8 L717.8 331.5 L718.9 332.9 L719.9 335.3 L720.9 337.7 L721.9 343.7 L723.0 345.9 L724.0 351.5 L725.0 344.9 L726.1 341.9 L727.1 334.6 L728.0 330.0 L728.9 328.6 L729.8 324.0 L730.8 319.2 L731.7 320.7 L732.6 318.9 L733.5 316.9 L734.5 315.1 L735.4 316.2 L736.3 312.8 L737.2 309.7 L738.2 308.7 L739.1 301.5 L740.0 301.3 L741.1 300.8 L742.2 302.1 L743.2 299.2 L744.3 302.9 L745.4 310.0 L746.5 306.9 L747.5 306.7 L748.6 301.3 L749.7 295.2 L750.8 291.8 L751.9 288.4 L752.9 289.6 L754.0 287.2 L755.1 284.1 L756.2 284.1 L757.3 281.1 L758.3 279.8 L759.4 279.5 L760.5 284.2 L761.6 284.1 L762.6 283.2 L763.7 277.2 L764.8 273.3 L765.9 270.7 L767.0 271.9 L768.0 273.3 L769.1 273.4 L770.2 272.7 L771.3 269.0 L772.3 272.5 L773.4 275.5 L774.5 275.5 L775.6 275.5 L776.7 273.0 L777.7 273.3 L778.8 281.1 L779.9 292.7 L781.0 289.4 L782.0 288.9 L783.1 286.3 L784.2 279.7 L785.3 275.5 L786.4 274.2 L787.4 269.5 L788.5 266.8 L789.6 265.1 L790.7 264.3 L791.8 260.4 L792.8 258.8 L793.9 256.7 L795.0 256.1 L796.1 250.4 L797.1 243.0 L798.2 238.8 L799.3 237.8 L800.4 241.3 L801.5 243.1 L802.5 236.3 L803.6 229.5 L804.7 223.7 L805.8 229.3 L806.8 234.9 L807.9 238.8 L809.0 241.2 L810.1 249.7 L811.2 253.9 L812.2 259.8 L813.3 269.8 L814.4 277.6 L815.5 267.8 L816.5 258.2 L817.6 249.5 L818.7 241.0 L820.0 245.3 L820.9 243.8 L821.8 244.5 L822.7 248.5 L823.9 255.2 L825.2 263.8 L826.1 255.0 L827.0 248.2 L827.9 244.8 L828.8 239.2 L829.8 235.9 L830.7 239.4 L831.6 237.2 L832.5 235.7 L833.5 233.1 L834.4 233.2 L835.3 232.9 L836.2 233.4 L837.2 230.2 L838.1 230.0 L839.0 229.6 L839.9 231.3 L840.8 230.8 L841.8 231.4 L842.7 233.1 L843.7 230.6 L844.7 229.5 L845.8 226.9 L846.8 223.3 L847.8 221.8 L848.8 217.7 L849.9 215.2 L850.9 212.1 L851.9 208.5 L852.9 206.1 L854.0 203.7 L855.0 200.8 L855.8 195.8 L856.9 203.1 L858.1 208.9 L859.2 210.8 L860.4 208.6 L861.5 209.1 L862.7 206.2 L863.8 211.7 L865.0 218.8 L866.2 214.1 L867.3 207.2 L868.5 203.8 L869.6 205.5 L870.8 208.6 L871.9 209.6 L873.1 207.2 L874.2 199.2 L875.4 197.2 L876.5 192.3 L877.7 201.4 L878.8 210.8 L880.0 219.2 L881.2 224.1 L882.3 226.9 L883.5 237.0 L884.6 250.0 L885.5 243.9 L886.5 236.9 L887.4 230.4 L888.4 235.7 L889.4 241.7 L890.4 247.7 L891.5 270.6 L892.7 293.9 L893.8 274.0 L895.0 254.6 L896.2 266.5 L897.3 280.0 L898.5 247.7 L899.6 238.8 L900.8 234.2 L901.9 226.9 L903.1 220.9 L904.2 215.4 L905.4 208.5 L906.3 206.0 L907.2 203.2 L908.2 204.2 L909.1 204.3 L910.0 203.8 L910.9 204.5 L911.9 203.2 L912.8 203.1 L913.7 200.8 L914.6 199.2 L915.8 196.4 L916.9 192.3 L918.1 185.6 L919.2 178.5 L920.2 178.2 L921.1 175.5 L922.0 175.4 L922.9 173.7 L923.9 173.9 L925.0 172.8 L926.2 171.9 L927.3 171.5 L928.5 173.8 L929.6 178.5 L930.8 169.9 L931.9 160.0 L933.1 161.2 L934.2 164.6 L935.4 167.6 L936.5 171.5 L937.7 166.9 L938.9 160.0 L940.0 157.0 L941.2 154.8 L942.3 155.4 L943.5 148.0 L944.6 141.5 L945.8 139.7 L946.9 140.8 L948.1 139.2 L949.2 136.7 L950.4 132.3 L951.5 134.3 L952.7 136.9 L953.9 131.2 L955.0 123.1 L955.8 118.8 L956.6 112.7 L957.5 118.6 L958.5 120.8 L959.6 124.2 L960.8 125.4 L961.9 135.9 L963.1 141.5 L964.2 150.8 L965.4 137.2 L966.5 127.7 L967.7 124.9 L968.9 123.1 L970.0 130.4 L971.2 132.3 L972.3 141.5 L973.5 130.7 L974.6 121.9 L975.8 120.9 L976.9 123.1 L978.1 126.2 L979.2 125.4 L980.4 121.0 L981.5 118.5 L982.7 121.1 L983.9 123.1 L985.0 113.9 L986.2 120.0 L987.3 127.7 L988.5 141.5 L989.6 132.3" stroke="#f090c8" stroke-width="3.8" fill="none" stroke-linejoin="round" stroke-linecap="round" shape-rendering="crispEdges"/><path d="M280.0 458.5 L280.6 460.9 L281.5 459.0 L282.5 459.5 L283.4 459.1 L284.3 457.1 L285.2 456.3 L286.3 456.9 L287.3 456.5 L288.3 458.5 L289.5 459.2 L290.8 456.0 L291.8 458.7 L292.8 455.7 L293.8 453.8 L294.9 454.7 L295.9 454.8 L296.9 455.4 L298.2 460.3 L299.1 463.5 L300.0 468.3 L301.2 472.0 L301.8 480.0 L303.1 491.7 L304.0 492.5 L304.9 496.8 L305.9 497.3 L306.8 496.4 L307.7 495.4 L308.6 492.2 L309.6 491.1 L310.5 486.2 L311.4 487.6 L312.3 488.6 L313.3 488.5 L314.2 484.3 L315.1 483.6 L316.0 481.6 L317.0 483.0 L317.9 481.6 L318.8 480.6 L319.7 479.1 L320.6 477.5 L321.6 477.6 L322.5 478.2 L323.4 478.8 L324.3 477.9 L325.3 475.4 L326.2 475.1 L327.1 473.5 L328.0 469.7 L329.0 465.9 L329.9 463.4 L330.8 462.2 L331.7 465.8 L332.7 471.4 L333.6 473.4 L334.5 473.9 L335.4 473.3 L336.4 472.3 L337.3 471.9 L338.2 470.3 L339.1 467.7 L340.0 467.4 L341.0 466.5 L341.9 466.2 L342.8 466.7 L343.7 464.0 L344.7 464.0 L345.6 463.5 L346.5 462.7 L347.4 461.1 L348.4 460.3 L349.3 460.0 L350.2 457.2 L351.1 456.6 L352.1 454.6 L353.0 452.4 L353.9 454.8 L354.8 452.6 L355.8 450.0 L356.7 447.8 L357.6 447.4 L358.8 444.4 L360.0 443.7 L360.8 449.4 L361.5 454.6 L362.5 453.6 L363.4 449.4 L364.3 448.8 L365.2 450.1 L366.2 450.0 L367.1 451.6 L368.0 453.2 L368.9 451.7 L369.8 452.1 L370.8 456.2 L371.8 457.3 L372.8 452.5 L373.8 448.5 L374.8 447.5 L375.8 446.2 L376.8 451.7 L377.8 453.1 L378.1 446.9 L379.0 444.9 L379.9 443.6 L380.8 444.2 L381.8 443.0 L382.7 440.8 L383.7 440.5 L384.7 440.8 L385.8 438.5 L386.8 437.2 L387.8 436.7 L388.8 436.2 L389.8 435.9 L390.7 435.4 L391.6 435.7 L392.5 437.5 L393.5 434.6 L394.4 433.2 L395.3 433.6 L396.2 433.0 L397.2 432.4 L398.1 431.5 L399.0 430.5 L399.9 430.1 L400.8 427.9 L401.8 428.6 L402.7 428.5 L403.6 428.5 L404.5 426.2 L405.5 427.0 L406.4 430.1 L407.3 426.9 L408.2 429.1 L409.2 427.2 L410.1 428.9 L411.0 425.8 L411.9 423.8 L412.8 424.2 L413.8 426.7 L414.7 429.6 L415.6 429.9 L416.5 430.0 L417.5 429.0 L418.4 426.1 L419.3 428.3 L420.2 426.9 L421.2 422.3 L422.1 420.5 L423.0 423.9 L423.9 421.5 L424.8 420.0 L425.8 419.2 L426.7 418.3 L427.6 415.0 L428.5 413.0 L429.5 412.1 L430.4 411.5 L431.3 409.4 L432.2 407.7 L433.2 409.8 L434.1 409.9 L435.0 410.0 L435.9 411.7 L436.8 411.4 L437.8 413.2 L438.7 414.9 L439.6 414.6 L440.5 414.6 L441.5 412.4 L442.4 412.0 L443.3 409.3 L444.2 408.5 L445.2 408.6 L446.1 409.5 L447.0 407.3 L447.9 409.9 L448.8 406.9 L449.8 406.9 L450.7 406.3 L451.6 405.5 L452.5 405.6 L453.5 403.8 L454.4 404.5 L455.3 406.4 L456.2 404.0 L457.2 403.2 L458.1 400.8 L459.1 398.8 L460.1 397.7 L461.2 396.3 L462.2 396.9 L463.2 397.6 L464.2 397.7 L465.2 394.0 L466.1 394.3 L467.0 393.5 L467.9 395.6 L468.8 394.6 L469.9 395.8 L470.9 393.7 L471.9 394.3 L472.9 390.4 L474.0 391.0 L475.0 390.0 L476.1 392.9 L477.1 393.2 L478.2 397.4 L479.2 399.2 L480.2 397.9 L481.1 393.0 L482.0 394.1 L482.9 396.1 L483.8 396.2 L484.8 393.7 L485.7 393.2 L486.6 392.0 L487.5 388.4 L488.5 388.5 L489.4 387.4 L490.3 388.0 L491.2 385.6 L492.2 387.9 L493.1 383.8 L494.0 384.1 L494.9 384.2 L495.8 383.7 L496.8 382.2 L497.7 382.3 L498.6 384.3 L499.5 384.9 L500.5 383.9 L501.4 388.1 L502.3 388.5 L503.3 386.0 L504.4 383.3 L505.4 383.8 L506.3 381.8 L507.2 379.0 L508.2 377.5 L509.1 378.8 L510.0 380.8 L511.0 380.6 L512.1 378.1 L513.1 377.7 L514.1 381.2 L515.1 383.4 L516.2 382.3 L517.2 387.6 L518.2 389.6 L519.2 391.5 L520.2 392.0 L521.1 392.8 L522.0 391.4 L522.9 390.1 L523.8 388.5 L524.9 391.3 L525.9 391.9 L526.9 396.2 L527.8 397.2 L528.8 400.0 L529.7 402.8 L530.6 405.6 L531.5 405.4 L532.5 404.4 L533.4 402.5 L534.3 401.2 L535.2 402.0 L536.2 400.8 L537.2 400.4 L538.2 396.6 L539.3 392.8 L540.3 392.0 L541.4 388.5 L542.4 390.7 L543.4 394.6 L544.4 396.7 L545.4 396.2 L546.5 397.8 L547.5 399.8 L548.6 403.7 L549.7 401.8 L550.8 406.1 L551.8 410.7 L552.9 413.5 L553.8 414.3 L554.8 416.8 L555.7 420.6 L556.6 424.6 L557.5 419.4 L558.5 414.8 L559.4 412.6 L560.3 412.3 L561.2 415.4 L562.2 418.8 L563.1 420.5 L564.0 418.5 L565.0 425.5 L566.1 434.8 L567.1 438.2 L568.1 434.3 L569.1 429.7 L570.2 427.1 L571.1 430.1 L572.0 431.7 L572.9 432.1 L573.8 429.5 L574.8 427.5 L575.7 423.3 L576.6 422.6 L577.5 422.2 L578.8 420.8 L580.0 420.0 L581.0 417.4 L582.1 414.2 L583.1 410.8 L584.1 410.8 L585.1 405.0 L586.2 403.1 L587.2 404.9 L588.2 406.5 L589.2 410.8 L590.3 412.8 L591.3 413.6 L592.3 420.0 L593.5 418.7 L594.6 415.4 L595.8 421.7 L596.9 426.2 L597.9 426.7 L599.0 430.2 L600.0 433.8 L601.0 437.3 L602.1 438.0 L603.1 441.5 L604.1 439.2 L605.1 439.1 L606.2 440.0 L607.3 434.4 L608.5 429.2 L609.6 428.9 L610.8 430.8 L611.8 428.4 L612.8 424.8 L613.8 421.5 L614.8 422.9 L615.8 421.2 L616.7 419.3 L617.7 420.0 L618.7 417.4 L619.7 415.5 L620.8 416.9 L621.7 417.5 L622.7 420.0 L623.7 420.1 L624.6 423.1 L625.6 422.9 L626.7 427.8 L627.7 430.8 L628.7 428.3 L629.7 425.5 L630.8 421.5 L631.8 420.8 L632.8 421.6 L633.8 421.5 L634.9 418.7 L635.9 418.6 L636.9 416.9 L637.9 416.3 L639.0 412.0 L640.0 410.8 L640.9 411.0 L641.8 410.2 L642.8 412.0 L643.7 412.5 L644.6 413.8 L645.6 415.7 L646.5 414.9 L647.5 417.8 L648.5 420.0 L649.2 417.3 L650.0 416.9 L651.2 420.3 L652.3 424.6 L653.5 421.8 L654.6 420.0 L655.6 418.1 L656.7 416.2 L657.7 415.4 L658.7 412.7 L659.7 415.2 L660.8 413.8 L661.7 414.5 L662.7 414.5 L663.7 413.3 L664.6 412.3 L665.6 412.3 L666.5 412.0 L667.5 415.7 L668.5 415.4 L669.4 416.4 L670.3 415.9 L671.2 413.0 L672.2 413.5 L673.1 410.8 L674.0 408.5 L675.0 408.7 L676.0 409.0 L676.9 410.8 L677.9 409.5 L679.0 408.0 L680.0 404.6 L681.0 399.6 L682.1 399.5 L683.1 398.5 L684.0 396.4 L685.0 394.3 L686.0 397.7 L686.9 396.9 L687.9 395.1 L688.8 393.0 L689.8 393.8 L690.8 393.8 L691.7 393.5 L692.7 393.1 L693.7 392.3 L694.6 389.2 L695.8 386.7 L696.9 387.7 L697.9 391.5 L699.0 392.1 L700.0 393.8 L701.2 393.4 L702.3 398.5 L703.3 396.5 L704.4 395.2 L705.4 392.3 L706.4 392.0 L707.4 392.5 L708.5 393.8 L709.5 395.2 L710.5 396.3 L711.5 395.4 L712.6 398.8 L713.6 401.7 L714.6 404.6 L715.6 401.6 L716.7 403.9 L717.7 406.2 L718.7 403.6 L719.7 402.5 L720.8 400.0 L721.7 401.7 L722.7 403.5 L723.7 407.4 L724.6 412.3 L725.8 407.9 L726.9 401.5 L727.9 400.1 L729.0 394.0 L730.0 393.8 L731.2 391.3 L732.3 388.5 L733.2 386.5 L734.2 387.8 L735.1 388.5 L736.0 387.4 L736.9 385.4 L737.8 384.5 L738.8 384.1 L739.7 382.0 L740.6 380.8 L741.5 379.2 L742.5 377.2 L743.4 378.9 L744.3 377.7 L745.2 376.1 L746.2 376.2 L747.1 374.2 L748.0 373.5 L748.9 372.4 L749.8 373.6 L750.8 373.1 L751.7 368.7 L752.6 369.8 L753.5 369.0 L754.5 367.3 L755.4 365.4 L756.3 363.9 L757.2 364.2 L758.2 364.9 L759.1 363.6 L760.0 363.8 L761.0 363.4 L761.9 363.7 L762.9 364.8 L763.8 362.0 L764.8 360.1 L765.8 357.7 L766.8 355.0 L767.8 354.5 L768.8 355.8 L769.9 356.7 L770.9 352.2 L771.9 351.5 L772.8 354.1 L773.8 353.8 L774.7 353.1 L775.6 357.3 L776.5 357.7 L777.6 358.6 L778.6 362.7 L779.6 365.4 L780.5 360.3 L781.5 358.7 L782.4 357.0 L783.3 354.2 L784.2 353.1 L785.2 348.8 L786.1 353.5 L787.0 351.0 L787.9 350.6 L788.8 350.0 L789.8 348.3 L790.7 349.5 L791.6 349.8 L792.5 348.6 L793.5 346.9 L794.2 346.5 L795.0 347.4 L796.1 343.7 L797.2 343.3 L798.2 343.8 L799.3 338.8 L800.4 336.7 L801.5 334.6 L802.5 334.7 L803.6 334.5 L804.7 330.3 L805.8 329.8 L806.9 330.2 L807.9 332.4 L809.0 337.6 L810.1 341.0 L811.2 345.4 L812.3 349.6 L813.3 351.8 L814.4 346.8 L815.5 341.5 L816.6 334.5 L817.6 333.5 L818.7 332.2 L819.8 330.7 L820.9 330.2 L822.0 335.8 L823.0 338.7 L824.1 341.0 L825.2 336.4 L826.3 329.6 L827.3 328.0 L828.4 327.1 L829.5 325.3 L830.6 324.7 L831.7 323.7 L832.7 323.3 L833.8 319.8 L834.9 319.9 L836.0 319.4 L837.0 320.5 L838.1 319.9 L839.2 319.6 L840.3 317.3 L841.4 320.1 L842.4 323.7 L843.5 320.7 L844.6 314.9 L845.7 312.9 L846.8 311.4 L847.8 310.7 L848.9 309.1 L850.0 309.2 L851.1 308.6 L852.1 308.5 L853.2 306.2 L854.3 308.3 L855.4 306.5 L856.5 307.8 L857.5 312.3 L858.6 315.1 L859.7 314.2 L860.8 310.9 L861.8 310.8 L862.9 314.1 L864.0 313.9 L865.1 317.3 L866.2 312.8 L867.2 312.3 L868.3 309.7 L869.4 308.6 L870.3 306.8 L871.3 308.4 L872.2 307.3 L873.1 303.9 L874.1 304.0 L875.0 304.3 L875.4 305.4 L876.5 307.9 L877.7 307.7 L878.8 310.0 L880.0 320.0 L880.9 325.4 L881.8 326.8 L882.8 328.3 L883.7 332.9 L884.6 333.8 L885.8 331.0 L886.9 325.8 L888.1 324.6 L889.2 336.5 L890.4 349.5 L891.5 363.8 L892.7 355.8 L893.8 349.4 L895.0 343.1 L896.2 347.2 L897.3 354.6 L898.5 342.8 L899.6 333.8 L900.8 328.3 L901.9 326.3 L903.1 322.3 L904.0 321.6 L905.0 319.1 L906.0 317.2 L906.9 314.4 L907.9 314.8 L908.9 312.5 L909.8 311.6 L910.8 311.6 L911.7 312.3 L912.7 311.8 L913.7 311.3 L914.6 308.9 L915.5 307.0 L916.5 303.5 L917.4 299.9 L918.3 297.2 L919.2 296.2 L920.2 293.7 L921.2 292.5 L922.2 291.7 L923.2 291.7 L924.2 291.1 L925.2 293.6 L926.2 289.2 L927.1 286.8 L928.1 289.5 L929.1 287.9 L930.1 287.0 L931.1 286.0 L932.1 284.9 L933.1 284.6 L934.1 287.2 L935.1 284.9 L936.1 285.4 L937.0 284.4 L938.0 283.0 L939.0 281.3 L940.0 282.3 L940.9 277.8 L941.9 276.2 L942.8 273.4 L943.7 274.1 L944.6 274.2 L945.6 274.6 L946.6 273.5 L947.6 274.0 L948.6 268.2 L949.6 270.9 L950.6 270.1 L951.5 273.1 L952.5 272.3 L953.4 269.2 L954.3 269.4 L955.2 264.8 L956.2 263.9 L957.1 266.4 L958.0 265.4 L958.9 265.2 L959.9 264.6 L960.8 266.2 L961.9 270.0 L963.1 273.7 L964.2 277.7 L965.4 273.0 L966.5 265.2 L967.7 263.9 L968.7 262.8 L969.7 261.3 L970.7 263.3 L971.7 263.0 L972.6 263.4 L973.6 262.5 L974.6 262.7 L975.5 263.8 L976.5 260.2 L977.4 257.7 L978.3 256.2 L979.2 258.1 L980.4 258.9 L981.5 260.2 L982.7 259.2 L983.9 257.0 L985.0 257.4 L986.2 258.1 L987.3 261.1 L988.5 263.9" stroke="#ff3333" stroke-width="3.8" fill="none" stroke-linejoin="round" stroke-linecap="round" shape-rendering="crispEdges"/><path d="M280.0 461.5 L281.1 463.5 L282.2 462.8 L283.2 462.3 L284.2 458.3 L285.2 457.8 L286.3 458.9 L287.3 459.7 L288.3 460.9 L289.5 461.1 L290.8 464.6 L291.7 460.4 L292.6 458.5 L293.5 457.1 L294.5 457.8 L295.7 457.2 L296.9 459.1 L298.2 464.6 L299.4 480.0 L299.4 477.0 L300.3 486.1 L301.2 491.7 L302.2 500.1 L303.1 510.2 L304.0 517.7 L304.9 521.3 L306.2 525.0 L307.7 513.9 L308.6 503.4 L309.6 495.4 L310.5 496.7 L311.4 494.1 L312.3 493.6 L313.3 493.7 L314.2 491.4 L315.1 489.9 L316.0 490.7 L317.0 492.3 L317.9 489.9 L318.8 490.8 L319.7 491.3 L320.6 493.6 L321.6 492.0 L322.5 490.9 L323.4 491.7 L324.3 490.7 L325.3 488.6 L326.2 486.2 L327.3 480.9 L328.4 478.8 L329.3 473.4 L330.3 471.4 L331.5 479.7 L332.7 484.3 L333.6 483.2 L334.5 480.6 L335.4 480.6 L336.4 479.7 L337.3 479.5 L338.2 478.1 L339.1 478.8 L340.0 478.7 L341.0 479.3 L341.9 475.9 L342.8 475.1 L343.7 475.7 L344.7 477.3 L345.6 477.0 L346.5 473.9 L347.4 473.4 L348.4 473.3 L349.3 470.5 L350.2 470.3 L351.1 469.6 L352.1 469.4 L353.0 467.9 L353.9 467.7 L354.8 466.5 L355.8 466.0 L356.7 464.0 L357.8 460.4 L358.9 459.2 L360.0 460.3 L361.0 463.6 L362.1 464.9 L363.1 466.9 L364.0 468.6 L364.9 468.8 L365.8 467.1 L366.8 465.3 L367.7 463.8 L368.6 462.3 L369.5 464.5 L370.5 463.8 L371.4 465.8 L372.3 465.4 L373.3 461.2 L374.4 460.4 L375.4 462.3 L376.6 467.0 L377.8 473.1 L378.1 457.7 L379.0 459.8 L379.9 460.0 L380.8 456.3 L381.8 457.2 L382.7 456.2 L383.6 457.7 L384.5 458.9 L385.5 458.1 L386.4 455.1 L387.3 453.1 L388.3 453.7 L389.4 452.8 L390.4 452.9 L391.4 451.2 L392.4 450.1 L393.5 450.0 L394.5 452.7 L395.5 451.6 L396.5 450.0 L397.6 449.6 L398.6 448.5 L399.6 448.5 L400.5 448.3 L401.5 447.8 L402.4 446.1 L403.3 447.3 L404.2 446.9 L405.2 445.7 L406.1 445.0 L407.0 444.9 L407.9 443.3 L408.8 443.8 L409.8 443.9 L410.7 444.1 L411.6 445.2 L412.5 446.2 L413.5 445.4 L414.4 446.8 L415.3 444.5 L416.2 444.2 L417.2 443.9 L418.1 440.8 L419.0 441.8 L419.9 444.7 L420.8 441.3 L421.8 441.7 L422.7 437.7 L423.6 436.5 L424.5 434.1 L425.5 434.3 L426.4 434.7 L427.3 434.6 L428.2 431.7 L429.1 429.7 L430.0 430.3 L431.1 429.0 L432.1 430.3 L433.2 428.1 L434.2 430.3 L435.3 429.0 L436.3 428.1 L437.4 429.1 L438.4 427.6 L439.5 426.8 L440.5 426.1 L441.6 427.9 L442.7 427.2 L443.7 427.4 L444.8 427.8 L445.8 426.9 L446.7 428.7 L447.7 428.0 L448.7 430.5 L449.7 431.5 L450.7 430.0 L451.8 429.1 L452.9 428.2 L453.9 428.3 L455.0 430.7 L456.0 428.5 L457.1 424.2 L458.1 424.2 L459.2 423.1 L460.2 422.5 L461.3 421.2 L462.4 418.7 L463.4 420.3 L464.5 422.9 L465.5 421.9 L466.5 423.0 L467.5 421.7 L468.6 419.3 L469.6 419.3 L470.6 420.5 L471.6 420.7 L472.7 419.2 L473.7 419.4 L474.7 421.0 L475.7 421.8 L476.8 422.9 L477.8 423.1 L478.7 423.5 L479.7 427.4 L480.7 427.1 L481.7 427.8 L482.7 425.3 L483.8 419.6 L484.9 420.0 L485.9 420.8 L487.0 422.1 L488.0 424.0 L489.1 420.5 L490.1 418.1 L491.2 417.8 L492.2 418.4 L493.3 419.1 L494.4 419.6 L495.4 416.8 L496.5 415.5 L497.3 416.8 L498.2 418.0 L499.1 418.9 L500.0 417.2 L501.2 420.3 L502.5 419.7 L503.4 423.8 L504.3 427.1 L505.5 421.5 L506.8 418.5 L508.0 419.4 L509.2 422.2 L510.5 416.3 L511.7 413.5 L512.7 411.9 L513.7 411.6 L514.8 412.3 L516.0 413.0 L517.2 414.8 L518.5 418.6 L519.7 422.2 L520.6 426.2 L521.5 428.3 L522.8 424.8 L524.0 422.2 L525.2 422.3 L526.5 419.7 L527.7 422.6 L528.9 425.8 L529.9 428.1 L531.0 429.1 L532.0 430.8 L533.2 432.4 L534.5 436.9 L535.7 434.0 L536.9 430.8 L538.2 427.1 L539.4 424.6 L540.6 426.7 L541.8 422.2 L543.1 423.6 L544.3 425.8 L545.3 425.9 L546.4 423.6 L547.4 423.4 L548.6 428.8 L549.8 432.0 L551.1 430.0 L552.3 432.0 L553.5 436.8 L554.8 438.2 L555.8 440.7 L556.8 444.1 L557.8 445.5 L559.1 440.4 L560.3 435.7 L561.5 434.7 L562.8 434.5 L564.0 440.4 L565.2 446.8 L566.2 451.4 L567.1 454.2 L568.3 450.9 L569.5 445.5 L570.6 445.9 L571.6 447.6 L572.6 446.8 L573.8 443.5 L575.1 444.3 L576.3 442.4 L577.5 441.8 L578.8 441.2 L580.0 438.5 L581.0 436.8 L582.1 433.8 L583.1 433.8 L584.1 433.3 L585.1 432.8 L586.2 429.2 L587.2 430.8 L588.2 433.9 L589.2 435.4 L590.3 438.9 L591.3 440.8 L592.3 443.1 L593.3 441.5 L594.4 440.2 L595.4 441.5 L596.4 446.6 L597.4 450.4 L598.5 452.3 L599.4 453.9 L600.4 456.1 L601.3 458.3 L602.3 456.9 L603.3 455.6 L604.4 454.8 L605.4 453.8 L606.4 450.2 L607.4 444.8 L608.5 438.5 L609.4 436.1 L610.4 435.5 L611.3 436.4 L612.3 433.8 L613.2 431.2 L614.2 429.8 L615.1 428.8 L616.0 429.2 L616.9 429.2 L617.9 427.3 L618.8 427.7 L619.8 428.2 L620.8 426.2 L621.7 426.5 L622.7 429.5 L623.7 433.8 L624.6 432.3 L625.6 430.4 L626.7 432.4 L627.7 433.8 L628.7 434.5 L629.7 433.6 L630.8 432.3 L631.8 430.1 L632.8 427.9 L633.8 427.7 L634.9 426.9 L635.9 428.6 L636.9 432.3 L637.8 431.4 L638.8 429.5 L639.7 430.5 L640.6 430.0 L641.5 429.2 L642.6 429.8 L643.6 429.2 L644.6 429.2 L645.6 430.3 L646.5 434.2 L647.5 433.9 L648.5 433.8 L649.2 431.6 L650.0 432.3 L651.0 435.4 L652.1 439.8 L653.1 441.5 L654.1 439.7 L655.1 437.5 L656.2 438.5 L657.2 436.4 L658.2 435.1 L659.2 432.3 L660.2 432.0 L661.2 429.0 L662.1 430.5 L663.1 429.2 L664.0 427.4 L665.0 427.1 L666.0 427.2 L666.9 429.2 L667.9 430.9 L669.0 432.1 L670.0 432.3 L671.0 432.8 L672.1 433.9 L673.1 433.8 L674.0 433.6 L675.0 435.6 L676.0 435.5 L676.9 435.4 L677.9 434.3 L679.0 432.5 L680.0 429.2 L681.0 431.7 L682.1 431.7 L683.1 427.7 L684.0 426.9 L685.0 426.6 L686.0 425.0 L686.9 429.2 L687.9 429.8 L689.0 428.0 L690.0 427.7 L691.0 425.1 L692.1 426.5 L693.1 423.1 L694.1 420.8 L695.1 422.4 L696.2 420.0 L697.2 419.1 L698.2 421.7 L699.2 421.5 L700.2 422.2 L701.2 424.7 L702.1 425.8 L703.1 426.2 L704.1 424.4 L705.1 425.1 L706.2 424.6 L707.2 426.7 L708.2 426.2 L709.2 424.6 L710.2 424.5 L711.2 425.5 L712.1 427.8 L713.1 426.2 L714.1 430.4 L715.1 432.9 L716.2 433.8 L717.1 430.8 L718.1 429.7 L719.0 429.3 L720.0 428.7 L720.9 432.7 L721.8 433.4 L722.8 434.7 L723.7 436.3 L724.6 437.9 L725.5 435.7 L726.5 431.9 L727.4 428.4 L728.3 428.0 L729.2 425.0 L730.2 425.3 L731.1 422.6 L732.0 420.8 L732.9 419.1 L733.9 419.4 L734.8 417.2 L735.7 417.0 L736.6 414.4 L737.6 412.2 L738.5 412.1 L739.4 412.0 L740.3 411.3 L741.2 410.9 L742.2 409.4 L743.1 408.4 L744.0 405.5 L744.9 406.8 L745.9 405.7 L746.8 404.5 L747.7 406.5 L748.6 405.7 L749.6 406.4 L750.5 405.3 L751.4 402.5 L752.3 402.8 L753.3 402.7 L754.2 403.0 L755.1 400.8 L756.0 399.4 L757.0 399.1 L757.9 399.1 L758.8 399.3 L759.7 400.2 L760.6 401.3 L761.6 399.1 L762.5 397.1 L763.4 396.5 L764.3 397.2 L765.3 397.9 L766.2 397.3 L767.1 398.4 L768.0 399.6 L769.0 399.3 L769.9 395.4 L770.8 395.8 L771.7 393.7 L772.7 393.7 L773.6 393.6 L774.5 397.1 L775.4 398.7 L776.4 399.1 L777.3 400.9 L778.2 402.6 L779.1 404.7 L780.0 404.9 L781.0 402.3 L781.9 402.4 L782.8 401.5 L783.7 402.8 L784.7 400.4 L785.6 398.7 L786.5 397.6 L787.4 398.1 L788.4 393.6 L789.3 395.7 L790.2 396.1 L791.1 399.9 L792.1 399.1 L793.0 400.9 L794.0 402.3 L795.0 399.2 L796.1 399.0 L797.2 397.0 L798.2 397.2 L799.3 397.0 L800.4 397.3 L801.5 397.0 L802.5 396.6 L803.6 392.7 L804.7 389.7 L805.8 389.7 L806.9 386.3 L807.9 390.4 L809.0 391.4 L810.1 392.7 L811.2 390.5 L812.3 386.3 L813.3 393.8 L814.4 399.2 L815.5 394.5 L816.6 391.8 L817.6 388.4 L818.7 389.7 L819.8 387.1 L820.9 386.0 L822.0 384.1 L823.0 383.9 L824.1 386.5 L825.2 388.4 L826.3 388.6 L827.3 384.9 L828.4 381.5 L829.5 379.8 L830.6 379.5 L831.7 378.4 L832.7 376.5 L833.8 377.6 L834.9 376.4 L836.0 376.1 L837.0 373.3 L838.1 373.4 L839.2 374.9 L840.3 377.6 L841.4 376.8 L842.4 379.8 L843.5 376.4 L844.6 374.9 L845.7 374.0 L846.8 369.3 L847.8 366.8 L848.9 365.9 L850.0 365.0 L851.1 364.4 L852.1 362.5 L853.2 364.6 L854.3 368.8 L855.4 369.0 L856.5 368.9 L857.5 372.1 L858.6 373.8 L859.7 375.5 L860.8 376.3 L861.8 376.3 L862.9 371.2 L864.0 372.6 L865.1 379.8 L866.2 374.6 L867.2 372.2 L868.3 368.7 L869.4 364.7 L870.3 362.9 L871.3 364.2 L872.2 364.9 L873.1 364.3 L874.1 363.9 L875.0 362.5 L875.9 364.7 L876.8 363.8 L877.7 365.0 L878.8 366.8 L880.0 369.4 L881.2 373.1 L882.3 373.1 L883.5 376.7 L884.6 380.0 L885.8 378.0 L886.9 377.2 L888.1 377.7 L889.2 387.1 L890.4 395.3 L891.5 405.4 L892.7 400.5 L893.8 396.1 L895.0 391.5 L896.2 395.1 L897.3 400.8 L898.5 393.2 L899.6 389.2 L900.5 385.4 L901.5 383.6 L902.4 382.8 L903.3 380.1 L904.2 377.7 L905.2 377.5 L906.1 378.5 L907.0 380.2 L907.9 380.8 L908.9 380.0 L910.0 375.5 L911.2 375.8 L912.3 375.4 L913.5 374.2 L914.6 373.8 L915.8 373.1 L916.9 369.0 L918.1 364.2 L919.2 362.7 L920.4 362.0 L921.5 363.5 L922.7 363.8 L923.9 361.7 L925.0 364.0 L926.2 361.5 L927.3 363.6 L928.5 366.6 L929.6 367.3 L930.8 365.8 L931.9 364.9 L933.1 360.4 L934.0 356.5 L934.9 357.3 L935.9 355.8 L936.8 357.8 L937.7 355.8 L938.6 354.9 L939.5 354.8 L940.5 355.1 L941.4 354.2 L942.3 354.6 L943.2 352.7 L944.2 353.2 L945.1 353.0 L946.0 354.8 L946.9 352.3 L947.9 352.5 L948.8 352.1 L949.7 352.6 L950.6 354.1 L951.5 355.8 L952.5 355.2 L953.4 352.5 L954.3 348.4 L955.2 347.5 L956.2 345.4 L957.3 345.5 L958.5 341.9 L959.6 343.1 L960.8 343.1 L961.9 346.5 L963.1 349.9 L964.2 354.6 L965.4 348.5 L966.5 344.2 L967.5 344.5 L968.4 343.4 L969.3 342.0 L970.2 343.0 L971.2 340.8 L972.1 338.9 L973.0 336.9 L973.9 338.3 L974.9 338.8 L975.8 337.3 L976.9 337.6 L978.1 338.1 L979.2 333.8 L980.4 333.1 L981.5 333.6 L982.7 336.2 L983.9 335.1 L985.0 334.2 L986.2 333.8 L987.3 332.0 L988.5 333.2 L989.6 330.4" stroke="#0000ff" stroke-width="3.8" fill="none" stroke-linejoin="round" stroke-linecap="round" shape-rendering="crispEdges"/></g>
<rect x="280.5" y="23.5" width="710" height="588" fill="none" stroke="#000" stroke-width="1"/>
<path d="M280.5 611V616M290.5 611V615M299.5 611V615M309.5 611V616M318.5 611V615M328.5 611V615M338.5 611V616M348.5 611V615M358.5 611V615M368.5 611V616M378.5 611V615M387.5 611V615M397.5 611V616M406.5 611V615M415.5 611V615M426.5 611V616M435.5 611V615M445.5 611V615M455.5 611V616M464.5 611V615M475.5 611V615M484.5 611V616M494.5 611V615M504.5 611V615M514.5 611V616M523.5 611V615M532.5 611V615M542.5 611V616M552.5 611V615M562.5 611V615M571.5 611V616M581.5 611V615M591.5 611V615M601.5 611V616M611.5 611V615M621.5 611V615M630.5 611V616M639.5 611V615M648.5 611V615M658.5 611V616M667.5 611V615M677.5 611V615M687.5 611V616M696.5 611V615M706.5 611V615M715.5 611V616M725.5 611V615M735.5 611V615M744.5 611V616M754.5 611V615M763.5 611V615M773.5 611V616M783.5 611V615M793.5 611V615M802.5 611V616M812.5 611V615M822.5 611V615M832.5 611V616M842.5 611V615M851.5 611V615M861.5 611V616M870.5 611V615M879.5 611V615M889.5 611V616M899.5 611V615M908.5 611V615M918.5 611V616M928.5 611V615M938.5 611V615M948.5 611V616M958.5 611V615M967.5 611V615M977.5 611V616M986.5 611V615M990 29.5H994M990 65.5H994M990 101.5H994M990 137.5H994M990 173.5H994M990 209.5H994M990 245.5H994M990 281.5H994M990 317.5H994M990 353.5H994M990 389.5H994M990 425.5H994M990 461.5H994M990 497.5H994M990 533.5H994M990 569.5H994M990 605.5H994" stroke="#000" stroke-width="1" fill="none"/>
<path d="M281 461.5H995" stroke="#f020f0" stroke-width="1" fill="none"/>
<text x="280.5" y="631" text-anchor="middle" stroke="#000" stroke-width="0.3" font-weight="bold" font-size="15.4" transform="translate(280.5 0) scale(0.93 1) translate(-280.5 0)">2020</text>
<text x="309.5" y="631" text-anchor="middle" stroke="#000" stroke-width="0.3" font-weight="normal" font-size="15.4" transform="translate(309.5 0) scale(0.93 1) translate(-309.5 0)">Apr</text>
<text x="338.5" y="631" text-anchor="middle" stroke="#000" stroke-width="0.3" font-weight="normal" font-size="15.4" transform="translate(338.5 0) scale(0.93 1) translate(-338.5 0)">Jul</text>
<text x="368.5" y="631" text-anchor="middle" stroke="#000" stroke-width="0.3" font-weight="normal" font-size="15.4" transform="translate(368.5 0) scale(0.93 1) translate(-368.5 0)">Oct</text>
<text x="397.5" y="631" text-anchor="middle" stroke="#000" stroke-width="0.3" font-weight="bold" font-size="15.4" transform="translate(397.5 0) scale(0.93 1) translate(-397.5 0)">2021</text>
<text x="426.5" y="631" text-anchor="middle" stroke="#000" stroke-width="0.3" font-weight="normal" font-size="15.4" transform="translate(426.5 0) scale(0.93 1) translate(-426.5 0)">Apr</text>
<text x="455.5" y="631" text-anchor="middle" stroke="#000" stroke-width="0.3" font-weight="normal" font-size="15.4" transform="translate(455.5 0) scale(0.93 1) translate(-455.5 0)">Jul</text>
<text x="484.5" y="631" text-anchor="middle" stroke="#000" stroke-width="0.3" font-weight="normal" font-size="15.4" transform="translate(484.5 0) scale(0.93 1) translate(-484.5 0)">Oct</text>
<text x="514.5" y="631" text-anchor="middle" stroke="#000" stroke-width="0.3" font-weight="bold" font-size="15.4" transform="translate(514.5 0) scale(0.93 1) translate(-514.5 0)">2022</text>
<text x="542.5" y="631" text-anchor="middle" stroke="#000" stroke-width="0.3" font-weight="normal" font-size="15.4" transform="translate(542.5 0) scale(0.93 1) translate(-542.5 0)">Apr</text>
<text x="571.5" y="631" text-anchor="middle" stroke="#000" stroke-width="0.3" font-weight="normal" font-size="15.4" transform="translate(571.5 0) scale(0.93 1) translate(-571.5 0)">Jul</text>
<text x="601.5" y="631" text-anchor="middle" stroke="#000" stroke-width="0.3" font-weight="normal" font-size="15.4" transform="translate(601.5 0) scale(0.93 1) translate(-601.5 0)">Oct</text>
<text x="630.5" y="631" text-anchor="middle" stroke="#000" stroke-width="0.3" font-weight="bold" font-size="15.4" transform="translate(630.5 0) scale(0.93 1) translate(-630.5 0)">2023</text>
<text x="658.5" y="631" text-anchor="middle" stroke="#000" stroke-width="0.3" font-weight="normal" font-size="15.4" transform="translate(658.5 0) scale(0.93 1) translate(-658.5 0)">Apr</text>
<text x="687.5" y="631" text-anchor="middle" stroke="#000" stroke-width="0.3" font-weight="normal" font-size="15.4" transform="translate(687.5 0) scale(0.93 1) translate(-687.5 0)">Jul</text>
<text x="715.5" y="631" text-anchor="middle" stroke="#000" stroke-width="0.3" font-weight="normal" font-size="15.4" transform="translate(715.5 0) scale(0.93 1) translate(-715.5 0)">Oct</text>
<text x="744.5" y="631" text-anchor="middle" stroke="#000" stroke-width="0.3" font-weight="bold" font-size="15.4" transform="translate(744.5 0) scale(0.93 1) translate(-744.5 0)">2024</text>
<text x="773.5" y="631" text-anchor="middle" stroke="#000" stroke-width="0.3" font-weight="normal" font-size="15.4" transform="translate(773.5 0) scale(0.93 1) translate(-773.5 0)">Apr</text>
<text x="802.5" y="631" text-anchor="middle" stroke="#000" stroke-width="0.3" font-weight="normal" font-size="15.4" transform="translate(802.5 0) scale(0.93 1) translate(-802.5 0)">Jul</text>
<text x="832.5" y="631" text-anchor="middle" stroke="#000" stroke-width="0.3" font-weight="normal" font-size="15.4" transform="translate(832.5 0) scale(0.93 1) translate(-832.5 0)">Oct</text>
<text x="861.5" y="631" text-anchor="middle" stroke="#000" stroke-width="0.3" font-weight="bold" font-size="15.4" transform="translate(861.5 0) scale(0.93 1) translate(-861.5 0)">2025</text>
<text x="889.5" y="631" text-anchor="middle" stroke="#000" stroke-width="0.3" font-weight="normal" font-size="15.4" transform="translate(889.5 0) scale(0.93 1) translate(-889.5 0)">Apr</text>
<text x="918.5" y="631" text-anchor="middle" stroke="#000" stroke-width="0.3" font-weight="normal" font-size="15.4" transform="translate(918.5 0) scale(0.93 1) translate(-918.5 0)">Jul</text>
<text x="948.5" y="631" text-anchor="middle" stroke="#000" stroke-width="0.3" font-weight="normal" font-size="15.4" transform="translate(948.5 0) scale(0.93 1) translate(-948.5 0)">Oct</text>
<text x="977.5" y="631" text-anchor="middle" stroke="#000" stroke-width="0.3" font-weight="bold" font-size="15.4" transform="translate(977.5 0) scale(0.93 1) translate(-977.5 0)">2026</text>
<text x="999" y="35.0" stroke="#000" stroke-width="0.3" font-weight="bold" font-size="15.4" transform="translate(999 0) scale(0.93 1) translate(-999 0)">240%</text>
<text x="999" y="71.0" stroke="#000" stroke-width="0.3" font-weight="bold" font-size="15.4" transform="translate(999 0) scale(0.93 1) translate(-999 0)">220%</text>
<text x="999" y="107.0" stroke="#000" stroke-width="0.3" font-weight="bold" font-size="15.4" transform="translate(999 0) scale(0.93 1) translate(-999 0)">200%</text>
<text x="999" y="143.0" stroke="#000" stroke-width="0.3" font-weight="bold" font-size="15.4" transform="translate(999 0) scale(0.93 1) translate(-999 0)">180%</text>
<text x="999" y="179.0" stroke="#000" stroke-width="0.3" font-weight="bold" font-size="15.4" transform="translate(999 0) scale(0.93 1) translate(-999 0)">160%</text>
<text x="999" y="215.0" stroke="#000" stroke-width="0.3" font-weight="bold" font-size="15.4" transform="translate(999 0) scale(0.93 1) translate(-999 0)">140%</text>
<text x="999" y="251.0" stroke="#000" stroke-width="0.3" font-weight="bold" font-size="15.4" transform="translate(999 0) scale(0.93 1) translate(-999 0)">120%</text>
<text x="999" y="287.0" stroke="#000" stroke-width="0.3" font-weight="bold" font-size="15.4" transform="translate(999 0) scale(0.93 1) translate(-999 0)">100%</text>
<text x="999" y="323.0" stroke="#000" stroke-width="0.3" font-weight="bold" font-size="15.4" transform="translate(999 0) scale(0.93 1) translate(-999 0)">80%</text>
<text x="999" y="359.0" stroke="#000" stroke-width="0.3" font-weight="bold" font-size="15.4" transform="translate(999 0) scale(0.93 1) translate(-999 0)">60%</text>
<text x="999" y="395.0" stroke="#000" stroke-width="0.3" font-weight="bold" font-size="15.4" transform="translate(999 0) scale(0.93 1) translate(-999 0)">40%</text>
<text x="999" y="431.0" stroke="#000" stroke-width="0.3" font-weight="bold" font-size="15.4" transform="translate(999 0) scale(0.93 1) translate(-999 0)">20%</text>
<text x="999" y="467.0" stroke="#000" stroke-width="0.3" font-weight="bold" font-size="15.4" transform="translate(999 0) scale(0.93 1) translate(-999 0)">0%</text>
<text x="999" y="503.0" stroke="#000" stroke-width="0.3" font-weight="bold" font-size="15.4" transform="translate(999 0) scale(0.93 1) translate(-999 0)">-20%</text>
<text x="999" y="539.0" stroke="#000" stroke-width="0.3" font-weight="bold" font-size="15.4" transform="translate(999 0) scale(0.93 1) translate(-999 0)">-40%</text>
<text x="999" y="575.0" stroke="#000" stroke-width="0.3" font-weight="bold" font-size="15.4" transform="translate(999 0) scale(0.93 1) translate(-999 0)">-60%</text>
<text x="999" y="611.0" stroke="#000" stroke-width="0.3" font-weight="bold" font-size="15.4" transform="translate(999 0) scale(0.93 1) translate(-999 0)">-80%</text><text x="644" y="647" text-anchor="middle" font-size="11.4" font-weight="normal" fill="#111">world gold charts © www.goldchartsrus.com</text>
</svg></body></html>
